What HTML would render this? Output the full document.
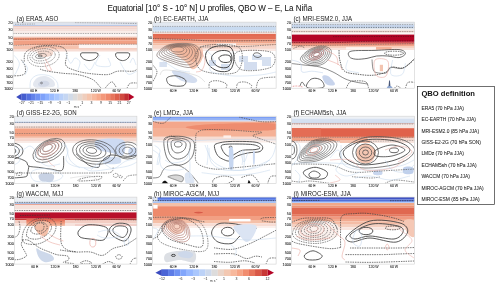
<!DOCTYPE html><html><head><meta charset="utf-8"><style>html,body{margin:0;padding:0;background:#fff;width:500px;height:288px;overflow:hidden}svg{display:block;will-change:transform}</style></head><body>
<svg width="500" height="288" viewBox="0 0 500 288" font-family='"Liberation Sans", sans-serif'>
<rect width="500" height="288" fill="#fff"/>
<text x="107.40" y="10.90" font-size="8.5" text-anchor="start" fill="#111" font-weight="normal" stroke="#111" stroke-width="0.05" textLength="204.8" lengthAdjust="spacingAndGlyphs">Equatorial [10° S - 10° N] U profiles, QBO W – E, La Niña</text>
<clipPath id="cp0"><rect x="13.1" y="22.1" width="124.1" height="66.1"/></clipPath>
<g clip-path="url(#cp0)">
<rect x="13.10" y="22.10" width="124.10" height="2.90" fill="#dfe4ee" fill-opacity="1"/>
<rect x="13.10" y="25.00" width="124.10" height="0.90" fill="#abc2e8" fill-opacity="1"/>
<rect x="13.10" y="25.90" width="124.10" height="1.30" fill="#efcdc3" fill-opacity="1"/>
<rect x="13.10" y="27.20" width="124.10" height="1.40" fill="#f3d8d0" fill-opacity="1"/>
<rect x="13.10" y="28.60" width="124.10" height="0.80" fill="#ebbcb0" fill-opacity="1"/>
<rect x="13.10" y="29.40" width="124.10" height="1.80" fill="#f5e0da" fill-opacity="1"/>
<rect x="13.10" y="31.20" width="124.10" height="1.80" fill="#f8ebe7" fill-opacity="1"/>
<rect x="13.10" y="33.00" width="124.10" height="3.50" fill="#fcf6f4" fill-opacity="1"/>
<rect x="13.10" y="36.50" width="124.10" height="1.10" fill="#f2cdc1" fill-opacity="1"/>
<rect x="13.10" y="37.60" width="124.10" height="2.90" fill="#ee9070" fill-opacity="1"/>
<rect x="13.10" y="40.50" width="124.10" height="4.90" fill="#f1a084" fill-opacity="1"/>
<rect x="13.10" y="45.40" width="124.10" height="4.20" fill="#f5c2ae" fill-opacity="1"/>
<rect x="13.10" y="49.60" width="124.10" height="1.90" fill="#f7ddd5" fill-opacity="1"/>
<rect x="78.80" y="44.30" width="58.40" height="3.90" fill="#fdf6f4" fill-opacity="1"/>
<rect x="78.80" y="48.20" width="58.40" height="1.40" fill="#f3cfc5" fill-opacity="1"/>
<path d="M15.0,24.3 L35.0,24.0" fill="none" stroke="#5c5c5c" stroke-width="0.462" stroke-opacity="1" stroke-dasharray="1.5,0.9"/>
<path d="M75.0,22.6 L110.0,22.9 L137.0,23.6" fill="none" stroke="#5c5c5c" stroke-width="0.462" stroke-opacity="1" stroke-dasharray="1.5,0.9"/>
<path d="M13.1,33.5 L137.0,33.5" fill="none" stroke="#5c5c5c" stroke-width="0.462" stroke-opacity="1" stroke-dasharray="1.5,0.9"/>
<path d="M13.1,39.3 L28.0,39.2 L40.0,38.6 L137.0,38.8" fill="none" stroke="#5c5c5c" stroke-width="0.462" stroke-opacity="1" stroke-dasharray="1.5,0.9"/>
<path d="M13.1,45.5 L20.0,45.2 L35.0,44.3 L137.0,44.2" fill="none" stroke="#5c5c5c" stroke-width="0.462" stroke-opacity="1" stroke-dasharray="1.5,0.9"/>
<path d="M38.0,51.0 C39.7,49.7 47.5,47.5 50.0,48.0 C52.5,48.5 53.5,52.5 53.0,54.0 C52.5,55.5 49.2,56.7 47.0,57.0 C44.8,57.3 41.5,57.0 40.0,56.0 C38.5,55.0 36.3,52.3 38.0,51.0 Z" fill="#f6dcd2" fill-opacity="1"/>
<ellipse cx="40.95" cy="56.00" rx="5.55" ry="2.40" transform="rotate(-8 40.95 56.00)" fill="none" stroke="#444" stroke-width="0.5"/>
<ellipse cx="41.75" cy="56.00" rx="9.55" ry="4.80" transform="rotate(-8 41.75 56.00)" fill="none" stroke="#444" stroke-width="0.5" stroke-dasharray="1.5,0.9"/>
<ellipse cx="42.55" cy="56.00" rx="12.75" ry="7.20" transform="rotate(-8 42.55 56.00)" fill="none" stroke="#444" stroke-width="0.5" stroke-dasharray="1.5,0.9"/>
<ellipse cx="43.35" cy="56.40" rx="15.95" ry="10.00" transform="rotate(-8 43.35 56.40)" fill="none" stroke="#444" stroke-width="0.5" stroke-dasharray="1.5,0.9"/>
<ellipse cx="40.20" cy="56.00" rx="2.20" ry="0.90" fill="none" stroke="#444" stroke-width="0.725" stroke-opacity="1"/>
<path d="M45.0,58.4 C45.8,59.7 48.7,64.4 49.7,66.4 C50.8,68.4 51.7,69.9 51.3,70.4 C50.9,70.9 48.3,70.8 47.3,69.6 C46.2,68.4 45.4,64.1 45.0,63.0" fill="none" stroke="#eaa9a0" stroke-width="0.5850000000000001" stroke-opacity="1"/>
<path d="M24.2,61.6 C24.5,60.0 23.4,54.6 26.0,52.0 C28.6,49.4 34.3,46.9 40.0,46.0 C45.7,45.1 55.5,45.4 60.0,46.5 C64.5,47.6 65.9,49.5 66.8,52.5 C67.7,55.5 64.6,61.8 65.6,64.7 C66.6,67.6 69.3,68.3 73.0,69.7 C76.7,71.1 82.0,72.5 87.7,73.3 C93.4,74.1 102.4,74.9 107.4,74.6 C112.4,74.2 113.4,71.8 117.7,71.2 C122.0,70.6 129.8,71.6 133.0,71.2 C136.2,70.8 136.3,69.3 137.0,68.9" fill="none" stroke="#444" stroke-width="0.725" stroke-opacity="1" stroke-dasharray="1.5,0.9"/>
<path d="M82,52.8 L96,52.8 Q99,53 98,55.5 C96,59.5 92,60.6 89,60.6 C85,60.6 81.5,58 80.6,55.5 Q80,53 82,52.8 Z" fill="none" stroke="#444" stroke-width="0.87" stroke-opacity="1"/>
<path d="M117,52.8 L128,52.8 Q130.5,53 129.6,55.5 C128,59.5 125,60.6 122.5,60.6 C119,60.6 116.3,58 115.6,55.5 Q115,53 117,52.8 Z" fill="none" stroke="#444" stroke-width="0.87" stroke-opacity="1"/>
<path d="M21.4,59.8 C22.0,60.8 24.4,63.8 25.0,66.0 C25.6,68.2 25.8,71.7 25.0,73.3 C24.2,74.9 22.0,75.1 20.0,75.5 C18.0,75.9 14.2,75.8 13.1,75.8" fill="none" stroke="#444" stroke-width="0.725" stroke-opacity="1" stroke-dasharray="1.5,0.9"/>
<path d="M40.0,69.0 C41.0,69.3 42.2,70.2 46.0,70.9 C49.8,71.6 57.7,72.7 63.0,73.3 C68.3,73.9 73.0,73.6 77.9,74.6 C82.8,75.6 88.9,77.5 92.6,79.5 C96.3,81.5 98.6,85.5 100.0,86.9 C101.4,88.4 100.8,88.0 101.0,88.2" fill="none" stroke="#444" stroke-width="0.725" stroke-opacity="1" stroke-dasharray="1.5,0.9"/>
<path d="M105.0,88.2 C106.1,87.2 109.7,82.1 111.6,81.9 C113.5,81.7 115.4,86.3 116.2,87.2" fill="none" stroke="#444" stroke-width="0.725" stroke-opacity="1" stroke-dasharray="1.5,0.9"/>
<path d="M127.0,88.2 C127.5,87.4 128.3,84.3 130.0,83.4 C131.7,82.5 135.8,83.1 137.0,83.0" fill="none" stroke="#444" stroke-width="0.725" stroke-opacity="1" stroke-dasharray="1.5,0.9"/>
<path d="M33.0,84.0 C33.2,82.4 35.0,79.3 37.0,78.0 C39.0,76.7 42.3,75.7 45.0,76.0 C47.7,76.3 51.4,78.3 53.0,80.0 C54.6,81.7 55.7,84.8 54.5,86.0 C53.3,87.2 49.1,87.2 46.0,87.5 C42.9,87.8 38.2,88.1 36.0,87.5 C33.8,86.9 32.8,85.6 33.0,84.0 Z" fill="#e3e7ef" fill-opacity="1"/>
<path d="M38.0,84.0 C38.2,83.1 40.0,81.5 41.5,81.0 C43.0,80.5 45.7,80.5 47.0,81.0 C48.3,81.5 49.7,83.1 49.5,84.0 C49.3,84.9 47.6,86.1 46.0,86.5 C44.4,86.9 41.3,86.9 40.0,86.5 C38.7,86.1 37.8,84.9 38.0,84.0 Z" fill="#d2d8e6" fill-opacity="1"/>
<ellipse cx="41.50" cy="83.00" rx="1.00" ry="0.80" fill="none" stroke="#555" stroke-width="0.58" stroke-opacity="1"/>
<path d="M30.0,88.0 C30.2,86.7 29.7,82.2 31.0,80.0 C32.3,77.8 34.8,75.7 38.0,75.0 C41.2,74.3 46.8,74.8 50.0,76.0 C53.2,77.2 55.7,80.0 57.0,82.0 C58.3,84.0 57.8,87.0 58.0,88.0" fill="none" stroke="#c4d6ec" stroke-width="0.52" stroke-opacity="1"/>
<path d="M14.0,55.2 C14.9,56.5 19.1,60.3 19.4,63.2 C19.7,66.1 16.9,70.8 16.0,72.8 C15.1,74.8 14.3,74.6 14.0,75.0" fill="none" stroke="#c4d6ec" stroke-width="0.52" stroke-opacity="1"/>
<path d="M22.0,61.0 C22.9,62.2 26.9,65.7 27.4,68.0 C27.9,70.3 25.4,73.8 25.0,75.0" fill="none" stroke="#c4d6ec" stroke-width="0.52" stroke-opacity="1"/>
<path d="M65.7,53.6 C66.5,55.2 69.0,62.5 70.5,63.2 C72.0,63.9 73.4,58.2 75.0,58.0 C76.6,57.8 79.5,60.0 80.0,62.0 C80.5,64.0 78.3,68.7 78.0,70.0" fill="none" stroke="#c4d6ec" stroke-width="0.52" stroke-opacity="1"/>
<path d="M100.0,55.0 C99.3,56.7 94.3,63.2 96.0,65.0 C97.7,66.8 108.0,67.2 110.0,66.0 C112.0,64.8 108.3,59.3 108.0,58.0" fill="none" stroke="#c4d6ec" stroke-width="0.52" stroke-opacity="1"/>
<path d="M84.0,64.0 C85.0,65.0 88.2,70.3 90.0,70.0 C91.8,69.7 94.2,63.3 95.0,62.0" fill="none" stroke="#c4d6ec" stroke-width="0.52" stroke-opacity="1"/>
<path d="M120.0,62.0 C121.3,64.0 125.2,72.5 128.0,74.0 C130.8,75.5 135.5,71.5 137.0,71.0" fill="none" stroke="#c4d6ec" stroke-width="0.52" stroke-opacity="1"/>
<path d="M130.0,63.0 C130.5,62.2 132.0,57.7 133.0,58.0 C134.0,58.3 135.5,63.8 136.0,65.0" fill="none" stroke="#c4d6ec" stroke-width="0.52" stroke-opacity="1"/>
</g>
<rect x="13.1" y="22.1" width="124.1" height="66.1" fill="none" stroke="#d0d0d0" stroke-width="0.6"/>
<text x="16.60" y="20.90" font-size="6.3" text-anchor="start" fill="#1a1a1a" font-weight="normal" textLength="41.7" lengthAdjust="spacingAndGlyphs">(a) ERA5, ASO</text>
<text x="12.60" y="23.85" font-size="3.8" text-anchor="end" fill="#1a1a1a" font-weight="normal" stroke="#1a1a1a" stroke-width="0.06">20</text>
<text x="12.60" y="30.70" font-size="3.8" text-anchor="end" fill="#1a1a1a" font-weight="normal" stroke="#1a1a1a" stroke-width="0.06">30</text>
<text x="12.60" y="39.33" font-size="3.8" text-anchor="end" fill="#1a1a1a" font-weight="normal" stroke="#1a1a1a" stroke-width="0.06">50</text>
<text x="12.60" y="45.02" font-size="3.8" text-anchor="end" fill="#1a1a1a" font-weight="normal" stroke="#1a1a1a" stroke-width="0.06">70</text>
<text x="12.60" y="51.04" font-size="3.8" text-anchor="end" fill="#1a1a1a" font-weight="normal" stroke="#1a1a1a" stroke-width="0.06">100</text>
<text x="12.60" y="62.76" font-size="3.8" text-anchor="end" fill="#1a1a1a" font-weight="normal" stroke="#1a1a1a" stroke-width="0.06">200</text>
<text x="12.60" y="69.61" font-size="3.8" text-anchor="end" fill="#1a1a1a" font-weight="normal" stroke="#1a1a1a" stroke-width="0.06">300</text>
<text x="12.60" y="78.24" font-size="3.8" text-anchor="end" fill="#1a1a1a" font-weight="normal" stroke="#1a1a1a" stroke-width="0.06">500</text>
<text x="12.60" y="83.92" font-size="3.8" text-anchor="end" fill="#1a1a1a" font-weight="normal" stroke="#1a1a1a" stroke-width="0.06">700</text>
<text x="12.60" y="89.95" font-size="3.8" text-anchor="end" fill="#1a1a1a" font-weight="normal" stroke="#1a1a1a" stroke-width="0.06">1000</text>
<text x="33.78" y="91.90" font-size="3.5" text-anchor="middle" fill="#1a1a1a" font-weight="normal" stroke="#1a1a1a" stroke-width="0.05">60 E</text>
<text x="54.47" y="91.90" font-size="3.5" text-anchor="middle" fill="#1a1a1a" font-weight="normal" stroke="#1a1a1a" stroke-width="0.05">120 E</text>
<text x="75.15" y="91.90" font-size="3.5" text-anchor="middle" fill="#1a1a1a" font-weight="normal" stroke="#1a1a1a" stroke-width="0.05">180</text>
<text x="95.83" y="91.90" font-size="3.5" text-anchor="middle" fill="#1a1a1a" font-weight="normal" stroke="#1a1a1a" stroke-width="0.05">120 W</text>
<text x="116.52" y="91.90" font-size="3.5" text-anchor="middle" fill="#1a1a1a" font-weight="normal" stroke="#1a1a1a" stroke-width="0.05">60 W</text>
<clipPath id="cp1"><rect x="152.7" y="22.1" width="123.40000000000003" height="66.1"/></clipPath>
<g clip-path="url(#cp1)">
<rect x="152.70" y="22.10" width="123.40" height="3.70" fill="#e2e8f0" fill-opacity="1"/>
<rect x="152.70" y="25.80" width="123.40" height="0.90" fill="#d8e2f0" fill-opacity="1"/>
<rect x="152.70" y="26.70" width="123.40" height="4.10" fill="#c8daf0" fill-opacity="1"/>
<rect x="152.70" y="30.80" width="123.40" height="1.40" fill="#e8eef5" fill-opacity="1"/>
<rect x="152.70" y="32.20" width="123.40" height="0.60" fill="#eec0b4" fill-opacity="1"/>
<rect x="152.70" y="32.80" width="123.40" height="1.10" fill="#f8e8e3" fill-opacity="1"/>
<rect x="152.70" y="33.90" width="123.40" height="2.10" fill="#e26a52" fill-opacity="1"/>
<rect x="152.70" y="36.00" width="123.40" height="3.40" fill="#e46f56" fill-opacity="1"/>
<rect x="152.70" y="39.40" width="123.40" height="2.30" fill="#ec8a6e" fill-opacity="1"/>
<rect x="152.70" y="41.70" width="123.40" height="1.80" fill="#f2a88c" fill-opacity="1"/>
<rect x="152.70" y="43.50" width="123.40" height="2.10" fill="#f5bea6" fill-opacity="1"/>
<rect x="152.70" y="45.60" width="123.40" height="3.30" fill="#f7d6ca" fill-opacity="1"/>
<rect x="152.70" y="48.90" width="123.40" height="2.10" fill="#faeae5" fill-opacity="1"/>
<rect x="216.50" y="43.30" width="19.50" height="2.30" fill="#fdf4f1" fill-opacity="1"/>
<path d="M166.0,46.0 C167.0,44.3 176.3,45.0 182.0,45.0 C187.7,45.0 196.5,44.2 200.0,46.0 C203.5,47.8 203.3,52.7 203.0,56.0 C202.7,59.3 199.8,63.8 198.0,66.0 C196.2,68.2 194.0,69.7 192.0,69.0 C190.0,68.3 188.7,64.3 186.0,62.0 C183.3,59.7 179.3,57.7 176.0,55.0 C172.7,52.3 165.0,47.7 166.0,46.0 Z" fill="#f6c8b3" fill-opacity="1"/>
<path d="M170.0,46.0 C171.7,44.2 190.2,44.5 195.0,46.0 C199.8,47.5 199.2,52.3 199.0,55.0 C198.8,57.7 196.3,61.7 194.0,62.0 C191.7,62.3 189.0,59.7 185.0,57.0 C181.0,54.3 168.3,47.8 170.0,46.0 Z" fill="#f2b79d" fill-opacity="1"/>
<path d="M152.7,26.4 L276.0,26.4" fill="none" stroke="#5c5c5c" stroke-width="0.462" stroke-opacity="1" stroke-dasharray="1.5,0.9"/>
<path d="M152.7,32.0 L276.0,32.0" fill="none" stroke="#5c5c5c" stroke-width="0.462" stroke-opacity="1" stroke-dasharray="1.5,0.9"/>
<path d="M152.7,38.6 C158.1,38.8 174.6,39.1 185.0,39.5 C195.4,39.9 199.8,40.7 215.0,40.9 C230.2,41.1 265.8,40.6 276.0,40.6" fill="none" stroke="#505050" stroke-width="0.6525" stroke-opacity="1" stroke-dasharray="1.5,0.9"/>
<path d="M200.0,47.0 C205.0,47.0 221.7,46.8 230.0,46.7 C238.3,46.6 245.0,46.5 250.0,46.3 C255.0,46.1 255.7,45.8 260.0,45.5 C264.3,45.2 273.3,44.7 276.0,44.5" fill="none" stroke="#505050" stroke-width="0.58" stroke-opacity="1" stroke-dasharray="1.5,0.9"/>
<rect x="159.40" y="62.00" width="7.50" height="5.00" fill="#d8e1f0" fill-opacity="1"/>
<path d="M172.0,71.0 C173.0,69.8 181.9,71.7 186.0,73.0 C190.1,74.3 195.4,77.3 196.7,79.0 C198.0,80.7 196.8,82.8 194.0,83.0 C191.2,83.2 183.7,82.0 180.0,80.0 C176.3,78.0 171.0,72.2 172.0,71.0 Z" fill="#d3ddef" fill-opacity="1"/>
<rect x="209.00" y="60.00" width="7.00" height="6.00" fill="#d6e0f0" fill-opacity="1"/>
<rect x="221.00" y="64.00" width="9.00" height="6.00" fill="#d6e0f0" fill-opacity="1"/>
<rect x="239.00" y="56.00" width="9.00" height="6.00" fill="#d6e0f0" fill-opacity="1"/>
<rect x="252.00" y="54.70" width="10.00" height="5.30" fill="#d6e0f0" fill-opacity="1"/>
<rect x="244.00" y="62.00" width="13.00" height="8.00" fill="#d3ddef" fill-opacity="1"/>
<rect x="262.00" y="57.00" width="9.00" height="9.00" fill="#d6e0f0" fill-opacity="1"/>
<path d="M157.0,56.0 C155.8,53.2 161.5,48.6 165.0,46.5 C168.5,44.4 173.0,43.8 178.0,43.5 C183.0,43.2 191.2,43.2 195.0,45.0 C198.8,46.8 200.7,50.8 201.0,54.0 C201.3,57.2 199.2,61.8 197.0,64.0 C194.8,66.2 192.2,67.7 188.0,67.5 C183.8,67.3 177.2,64.9 172.0,63.0 C166.8,61.1 158.2,58.8 157.0,56.0 Z" fill="none" stroke="#6a5a56" stroke-width="0.58"/>
<path d="M159.3,54.9 C158.4,52.5 163.4,48.5 166.5,46.7 C169.6,44.9 173.6,44.3 178.0,44.1 C182.4,43.9 189.5,43.9 192.8,45.4 C196.2,46.9 197.9,50.5 198.2,53.2 C198.4,56.0 196.5,60.0 194.5,61.9 C192.5,63.9 190.1,65.1 186.3,64.9 C182.6,64.8 176.7,62.7 172.2,61.1 C167.7,59.4 160.3,57.3 159.3,54.9 Z" fill="none" stroke="#6a5a56" stroke-width="0.58"/>
<path d="M161.7,53.8 C160.9,51.8 165.3,48.4 168.0,46.8 C170.7,45.3 174.2,44.8 178.0,44.7 C181.8,44.5 187.8,44.5 190.7,45.8 C193.6,47.1 195.1,50.2 195.3,52.5 C195.6,54.8 193.8,58.2 192.0,59.8 C190.2,61.5 187.9,62.4 184.7,62.3 C181.4,62.2 176.2,60.6 172.3,59.2 C168.5,57.8 162.4,55.9 161.7,53.8 Z" fill="none" stroke="#6a5a56" stroke-width="0.58"/>
<path d="M164.0,52.8 C163.5,51.0 167.2,48.2 169.5,47.0 C171.8,45.8 174.8,45.4 178.0,45.2 C181.2,45.1 186.1,45.2 188.5,46.2 C190.9,47.3 192.3,49.8 192.5,51.8 C192.7,53.7 191.1,56.4 189.5,57.8 C187.9,59.1 185.8,59.8 183.0,59.8 C180.2,59.7 175.7,58.4 172.5,57.2 C169.3,56.1 164.5,54.5 164.0,52.8 Z" fill="none" stroke="#6a5a56" stroke-width="0.58"/>
<path d="M166.3,51.7 C166.1,50.3 169.1,48.1 171.0,47.2 C172.9,46.2 175.4,45.9 178.0,45.8 C180.6,45.8 184.4,45.8 186.3,46.7 C188.3,47.5 189.6,49.5 189.7,51.0 C189.8,52.5 188.4,54.6 187.0,55.7 C185.6,56.7 183.7,57.2 181.3,57.2 C178.9,57.1 175.2,56.2 172.7,55.3 C170.2,54.4 166.6,53.0 166.3,51.7 Z" fill="none" stroke="#6a5a56" stroke-width="0.58"/>
<path d="M168.7,50.6 C168.6,49.6 170.9,48.0 172.5,47.3 C174.1,46.6 176.1,46.5 178.0,46.4 C179.9,46.4 182.7,46.4 184.2,47.1 C185.6,47.7 186.8,49.2 186.8,50.2 C186.9,51.3 185.7,52.9 184.5,53.6 C183.3,54.3 181.6,54.6 179.7,54.6 C177.7,54.6 174.7,54.1 172.8,53.4 C171.0,52.8 168.7,51.6 168.7,50.6 Z" fill="none" stroke="#6a5a56" stroke-width="0.58"/>
<path d="M171.0,49.5 C171.2,48.8 172.8,47.9 174.0,47.5 C175.2,47.1 176.7,47.0 178.0,47.0 C179.3,47.0 181.0,47.1 182.0,47.5 C183.0,47.9 184.0,48.8 184.0,49.5 C184.0,50.2 183.0,51.1 182.0,51.5 C181.0,51.9 179.5,52.0 178.0,52.0 C176.5,52.0 174.2,51.9 173.0,51.5 C171.8,51.1 170.8,50.2 171.0,49.5 Z" fill="none" stroke="#6a5a56" stroke-width="0.58"/>
<path d="M206.0,53.0 C207.2,50.1 211.0,47.5 215.0,46.5 C219.0,45.5 226.8,45.1 230.0,47.0 C233.2,48.9 234.0,54.2 234.0,58.0 C234.0,61.8 232.7,67.8 230.0,70.0 C227.3,72.2 221.7,72.0 218.0,71.0 C214.3,70.0 210.0,67.0 208.0,64.0 C206.0,61.0 204.8,55.9 206.0,53.0 Z" fill="none" stroke="#404040" stroke-width="0.9425" stroke-opacity="1"/>
<path d="M212.0,56.0 C213.0,54.2 216.2,51.8 219.0,51.0 C221.8,50.2 226.8,50.2 229.0,51.5 C231.2,52.8 232.2,56.4 232.0,59.0 C231.8,61.6 230.2,65.7 228.0,67.0 C225.8,68.3 221.5,67.8 219.0,67.0 C216.5,66.2 214.2,63.8 213.0,62.0 C211.8,60.2 211.0,57.8 212.0,56.0 Z" fill="none" stroke="#404040" stroke-width="0.9425" stroke-opacity="1"/>
<path d="M219.0,57.5 C219.5,56.4 222.2,55.2 224.0,55.0 C225.8,54.8 228.9,55.0 230.0,56.0 C231.1,57.0 231.2,59.9 230.5,61.0 C229.8,62.1 227.6,62.4 226.0,62.5 C224.4,62.6 222.2,62.3 221.0,61.5 C219.8,60.7 218.5,58.6 219.0,57.5 Z" fill="none" stroke="#404040" stroke-width="0.9425" stroke-opacity="1"/>
<path d="M200.4,47.3 C206.8,43.6 232.8,43.2 238.8,47.3 C244.8,51.4 242.8,68.4 236.4,72.1 C230.0,75.8 206.4,73.7 200.4,69.6 C194.4,65.5 194.0,51.0 200.4,47.3 Z" fill="none" stroke="#555" stroke-width="0.725" stroke-opacity="1" stroke-dasharray="1.5,0.9"/>
<path d="M236.4,52.3 C241.4,49.4 265.3,49.8 271.1,52.3 C276.9,54.8 276.1,64.2 271.1,67.1 C266.1,70.0 247.1,72.1 241.3,69.6 C235.5,67.1 231.4,55.2 236.4,52.3 Z" fill="none" stroke="#555" stroke-width="0.725" stroke-opacity="1" stroke-dasharray="1.5,0.9"/>
<path d="M166.9,78.0 C167.9,76.5 172.9,75.5 176.0,75.8 C179.1,76.1 184.3,78.3 185.5,80.0 C186.7,81.7 185.6,85.0 183.0,85.8 C180.4,86.6 172.7,86.3 170.0,85.0 C167.3,83.7 165.9,79.5 166.9,78.0 Z" fill="none" stroke="#444444" stroke-width="0.87" stroke-opacity="1"/>
<path d="M254.0,53.5 C254.7,53.0 256.8,52.6 258.0,52.9 C259.2,53.2 261.4,54.7 261.4,55.5 C261.4,56.3 259.2,57.4 258.0,57.5 C256.8,57.6 254.7,56.7 254.0,56.0 C253.3,55.3 253.3,54.0 254.0,53.5 Z" fill="none" stroke="#444444" stroke-width="0.725" stroke-opacity="1"/>
<path d="M152.7,64.7 C153.4,65.9 157.0,69.2 157.0,72.1 C157.0,75.0 153.4,80.3 152.7,82.0" fill="none" stroke="#555" stroke-width="0.725" stroke-opacity="1" stroke-dasharray="1.5,0.9"/>
<path d="M209.0,88.2 C209.2,87.2 208.5,83.2 210.0,82.0 C211.5,80.8 215.3,80.5 218.0,80.8 C220.7,81.1 225.1,82.8 226.4,84.0 C227.7,85.2 226.1,87.5 226.0,88.2" fill="none" stroke="#555" stroke-width="0.725" stroke-opacity="1" stroke-dasharray="1.5,0.9"/>
<path d="M236.4,88.2 C236.7,87.3 236.6,84.0 238.0,83.0 C239.4,82.0 242.8,81.7 245.0,82.0 C247.2,82.3 250.3,84.0 251.3,85.0 C252.3,86.0 251.1,87.7 251.0,88.2" fill="none" stroke="#555" stroke-width="0.725" stroke-opacity="1" stroke-dasharray="1.5,0.9"/>
<path d="M256.2,88.2 C256.8,86.7 256.7,80.9 260.0,79.0 C263.3,77.1 273.3,77.3 276.0,77.0" fill="none" stroke="#555" stroke-width="0.725" stroke-opacity="1" stroke-dasharray="1.5,0.9"/>
<path d="M206.0,50.0 C207.2,51.3 212.3,54.7 213.0,58.0 C213.7,61.3 208.8,67.3 210.0,70.0 C211.2,72.7 215.8,73.0 220.0,74.0 C224.2,75.0 228.3,75.8 235.0,76.0 C241.7,76.2 253.2,75.7 260.0,75.0 C266.8,74.3 273.3,72.5 276.0,72.0" fill="none" stroke="#c4d6ec" stroke-width="0.52" stroke-opacity="1"/>
<path d="M158.0,58.0 C159.7,59.0 164.7,62.0 168.0,64.0 C171.3,66.0 174.3,68.7 178.0,70.0 C181.7,71.3 188.0,71.7 190.0,72.0" fill="none" stroke="#c4d6ec" stroke-width="0.52" stroke-opacity="1"/>
<path d="M200.0,50.0 C200.8,51.7 204.7,56.7 205.0,60.0 C205.3,63.3 203.5,68.0 202.0,70.0 C200.5,72.0 197.0,71.7 196.0,72.0" fill="none" stroke="#eaa9a0" stroke-width="0.5850000000000001" stroke-opacity="1"/>
<path d="M160.0,75.0 C161.0,74.2 160.2,70.0 166.0,70.0 C171.8,70.0 188.5,73.0 195.0,75.0 C201.5,77.0 203.3,80.8 205.0,82.0" fill="none" stroke="#c8c8c8" stroke-width="0.52" stroke-opacity="1"/>
</g>
<rect x="152.7" y="22.1" width="123.40000000000003" height="66.1" fill="none" stroke="#d0d0d0" stroke-width="0.6"/>
<text x="153.90" y="20.90" font-size="6.3" text-anchor="start" fill="#1a1a1a" font-weight="normal" textLength="54.6" lengthAdjust="spacingAndGlyphs">(b) EC-EARTH, JJA</text>
<text x="152.20" y="23.85" font-size="3.8" text-anchor="end" fill="#1a1a1a" font-weight="normal" stroke="#1a1a1a" stroke-width="0.06">20</text>
<text x="152.20" y="30.70" font-size="3.8" text-anchor="end" fill="#1a1a1a" font-weight="normal" stroke="#1a1a1a" stroke-width="0.06">30</text>
<text x="152.20" y="39.33" font-size="3.8" text-anchor="end" fill="#1a1a1a" font-weight="normal" stroke="#1a1a1a" stroke-width="0.06">50</text>
<text x="152.20" y="45.02" font-size="3.8" text-anchor="end" fill="#1a1a1a" font-weight="normal" stroke="#1a1a1a" stroke-width="0.06">70</text>
<text x="152.20" y="51.04" font-size="3.8" text-anchor="end" fill="#1a1a1a" font-weight="normal" stroke="#1a1a1a" stroke-width="0.06">100</text>
<text x="152.20" y="62.76" font-size="3.8" text-anchor="end" fill="#1a1a1a" font-weight="normal" stroke="#1a1a1a" stroke-width="0.06">200</text>
<text x="152.20" y="69.61" font-size="3.8" text-anchor="end" fill="#1a1a1a" font-weight="normal" stroke="#1a1a1a" stroke-width="0.06">300</text>
<text x="152.20" y="78.24" font-size="3.8" text-anchor="end" fill="#1a1a1a" font-weight="normal" stroke="#1a1a1a" stroke-width="0.06">500</text>
<text x="152.20" y="83.92" font-size="3.8" text-anchor="end" fill="#1a1a1a" font-weight="normal" stroke="#1a1a1a" stroke-width="0.06">700</text>
<text x="152.20" y="89.95" font-size="3.8" text-anchor="end" fill="#1a1a1a" font-weight="normal" stroke="#1a1a1a" stroke-width="0.06">1000</text>
<text x="173.27" y="91.90" font-size="3.5" text-anchor="middle" fill="#1a1a1a" font-weight="normal" stroke="#1a1a1a" stroke-width="0.05">60 E</text>
<text x="193.83" y="91.90" font-size="3.5" text-anchor="middle" fill="#1a1a1a" font-weight="normal" stroke="#1a1a1a" stroke-width="0.05">120 E</text>
<text x="214.40" y="91.90" font-size="3.5" text-anchor="middle" fill="#1a1a1a" font-weight="normal" stroke="#1a1a1a" stroke-width="0.05">180</text>
<text x="234.97" y="91.90" font-size="3.5" text-anchor="middle" fill="#1a1a1a" font-weight="normal" stroke="#1a1a1a" stroke-width="0.05">120 W</text>
<text x="255.53" y="91.90" font-size="3.5" text-anchor="middle" fill="#1a1a1a" font-weight="normal" stroke="#1a1a1a" stroke-width="0.05">60 W</text>
<clipPath id="cp2"><rect x="291.5" y="22.1" width="123.10000000000002" height="66.1"/></clipPath>
<g clip-path="url(#cp2)">
<rect x="291.50" y="22.10" width="123.10" height="2.50" fill="#e0e6ee" fill-opacity="1"/>
<rect x="291.50" y="24.60" width="123.10" height="2.90" fill="#c9d8ee" fill-opacity="1"/>
<rect x="291.50" y="27.50" width="123.10" height="1.50" fill="#dce4ee" fill-opacity="1"/>
<rect x="291.50" y="29.00" width="123.10" height="1.80" fill="#f1ece9" fill-opacity="1"/>
<rect x="291.50" y="30.80" width="123.10" height="1.00" fill="#eec2b6" fill-opacity="1"/>
<rect x="291.50" y="31.80" width="123.10" height="1.00" fill="#f6e6e1" fill-opacity="1"/>
<rect x="291.50" y="32.80" width="123.10" height="1.80" fill="#fdf8f6" fill-opacity="1"/>
<rect x="291.50" y="34.60" width="123.10" height="7.20" fill="#b40426" fill-opacity="1"/>
<rect x="291.50" y="41.80" width="123.10" height="1.00" fill="#c52f32" fill-opacity="1"/>
<rect x="291.50" y="42.80" width="123.10" height="1.00" fill="#d9584a" fill-opacity="1"/>
<rect x="291.50" y="43.80" width="123.10" height="1.00" fill="#e8785f" fill-opacity="1"/>
<rect x="291.50" y="44.80" width="123.10" height="1.50" fill="#f2a68b" fill-opacity="1"/>
<rect x="291.50" y="46.30" width="123.10" height="1.50" fill="#f5c0a8" fill-opacity="1"/>
<rect x="291.50" y="47.80" width="123.10" height="2.20" fill="#f8e2da" fill-opacity="1"/>
<rect x="346.00" y="47.20" width="30.00" height="2.40" fill="#fdf5f2" fill-opacity="1"/>
<rect x="376.00" y="47.00" width="15.60" height="2.60" fill="#f4b49a" fill-opacity="1"/>
<path d="M291.5,24.6 L414.6,24.6" fill="none" stroke="#5c5c5c" stroke-width="0.462" stroke-opacity="1" stroke-dasharray="1.5,0.9"/>
<path d="M291.5,27.4 L414.6,27.4" fill="none" stroke="#456" stroke-width="0.725" stroke-opacity="1" stroke-dasharray="1.5,0.9"/>
<path d="M291.5,31.6 L414.6,31.6" fill="none" stroke="#5c5c5c" stroke-width="0.462" stroke-opacity="1" stroke-dasharray="1.5,0.9"/>
<path d="M333.0,36.6 C346.6,36.6 401.0,36.4 414.6,36.4" fill="none" stroke="#5a0a14" stroke-width="0.58" stroke-opacity="1" stroke-dasharray="1.5,0.9"/>
<path d="M291.5,42.5 C299.6,42.5 328.6,42.7 340.0,42.5 C351.4,42.3 347.6,41.8 360.0,41.5 C372.4,41.2 405.5,40.9 414.6,40.8" fill="none" stroke="#5a0a14" stroke-width="0.58" stroke-opacity="1" stroke-dasharray="1.5,0.9"/>
<path d="M291.5,45.5 C296.2,45.5 310.2,45.6 320.0,45.5 C329.8,45.4 334.2,45.1 350.0,44.8 C365.8,44.5 403.8,43.8 414.6,43.6" fill="none" stroke="#5c5c5c" stroke-width="0.462" stroke-opacity="1" stroke-dasharray="1.5,0.9"/>
<path d="M300.5,60.0 C299.5,57.8 303.4,54.2 306.0,52.0 C308.6,49.8 312.8,47.9 316.0,47.0 C319.2,46.1 322.5,46.0 325.0,46.5 C327.5,47.0 330.2,48.2 331.0,50.0 C331.8,51.8 331.3,54.7 330.0,57.0 C328.7,59.3 326.0,62.6 323.0,64.0 C320.0,65.4 315.8,66.2 312.0,65.5 C308.2,64.8 301.5,62.2 300.5,60.0 Z" fill="none" stroke="#505050" stroke-width="0.58"/>
<path d="M302.6,59.1 C301.8,57.1 305.2,54.0 307.5,52.2 C309.8,50.3 313.6,48.7 316.3,47.9 C319.1,47.2 322.0,47.1 324.2,47.6 C326.3,48.1 328.5,49.2 329.2,50.8 C329.8,52.3 329.2,54.8 328.0,56.8 C326.8,58.8 324.3,61.6 321.7,62.8 C319.0,63.9 315.3,64.5 312.2,63.9 C309.0,63.3 303.4,61.0 302.6,59.1 Z" fill="none" stroke="#505050" stroke-width="0.58"/>
<path d="M304.7,58.2 C304.1,56.5 307.0,53.9 309.0,52.3 C311.0,50.8 314.3,49.4 316.7,48.8 C319.1,48.2 321.6,48.2 323.3,48.7 C325.1,49.1 326.9,50.2 327.3,51.5 C327.8,52.8 327.2,55.0 326.0,56.7 C324.8,58.3 322.6,60.6 320.3,61.5 C318.1,62.4 314.9,62.9 312.3,62.3 C309.7,61.8 305.2,59.8 304.7,58.2 Z" fill="none" stroke="#505050" stroke-width="0.58"/>
<path d="M306.8,57.2 C306.4,55.9 308.8,53.8 310.5,52.5 C312.2,51.2 315.0,50.2 317.0,49.8 C319.0,49.3 321.1,49.3 322.5,49.8 C323.9,50.2 325.2,51.1 325.5,52.2 C325.8,53.4 325.1,55.2 324.0,56.5 C322.9,57.8 320.9,59.5 319.0,60.2 C317.1,61.0 314.5,61.2 312.5,60.8 C310.5,60.2 307.1,58.6 306.8,57.2 Z" fill="none" stroke="#505050" stroke-width="0.58"/>
<path d="M308.8,56.3 C308.7,55.2 310.6,53.6 312.0,52.7 C313.4,51.7 315.7,51.0 317.3,50.7 C318.9,50.4 320.6,50.4 321.7,50.8 C322.7,51.2 323.6,52.1 323.7,53.0 C323.7,53.9 323.0,55.3 322.0,56.3 C321.0,57.3 319.2,58.5 317.7,59.0 C316.1,59.5 314.1,59.6 312.7,59.2 C311.2,58.7 308.9,57.4 308.8,56.3 Z" fill="none" stroke="#505050" stroke-width="0.58"/>
<path d="M310.9,55.4 C311.0,54.6 312.4,53.5 313.5,52.8 C314.6,52.2 316.4,51.7 317.7,51.6 C318.9,51.4 320.1,51.6 320.8,51.9 C321.5,52.3 322.0,53.0 321.8,53.8 C321.7,54.5 320.9,55.5 320.0,56.2 C319.1,56.8 317.5,57.5 316.3,57.8 C315.1,58.0 313.7,58.0 312.8,57.6 C311.9,57.2 310.8,56.2 310.9,55.4 Z" fill="none" stroke="#505050" stroke-width="0.58"/>
<path d="M313.0,54.5 C313.3,54.0 314.2,53.3 315.0,53.0 C315.8,52.7 317.2,52.5 318.0,52.5 C318.8,52.5 319.7,52.7 320.0,53.0 C320.3,53.3 320.3,54.0 320.0,54.5 C319.7,55.0 318.8,55.7 318.0,56.0 C317.2,56.3 315.8,56.5 315.0,56.5 C314.2,56.5 313.3,56.3 313.0,56.0 C312.7,55.7 312.7,55.0 313.0,54.5 Z" fill="none" stroke="#505050" stroke-width="0.58"/>
<ellipse cx="316.50" cy="54.50" rx="8.00" ry="4.50" transform="rotate(-30 316.50 54.50)" fill="none" stroke="#c07070" stroke-width="0.5075" stroke-opacity="1"/>
<ellipse cx="316.50" cy="54.50" rx="5.60" ry="3.15" transform="rotate(-30 316.50 54.50)" fill="none" stroke="#c07070" stroke-width="0.5075" stroke-opacity="1"/>
<ellipse cx="316.50" cy="54.50" rx="3.20" ry="1.80" transform="rotate(-30 316.50 54.50)" fill="none" stroke="#c07070" stroke-width="0.5075" stroke-opacity="1"/>
<path d="M327.7,60.0 C329.6,60.8 336.6,63.1 339.0,64.8 C341.4,66.5 341.5,69.1 342.0,70.0" fill="none" stroke="#eaa9a0" stroke-width="0.5850000000000001" stroke-opacity="1"/>
<path d="M325.0,50.0 C326.8,51.0 333.8,53.5 336.0,56.0 C338.2,58.5 337.7,63.5 338.0,65.0" fill="none" stroke="#eaa9a0" stroke-width="0.5850000000000001" stroke-opacity="1"/>
<path d="M291.5,63.5 C293.6,63.8 299.2,64.4 304.0,65.0 C308.8,65.6 315.2,65.8 320.0,67.0 C324.8,68.2 328.8,70.0 333.0,72.0 C337.2,74.0 341.2,77.1 345.0,78.8 C348.8,80.5 351.7,81.1 355.5,82.0 C359.3,82.9 365.9,83.7 368.0,84.0" fill="none" stroke="#505050" stroke-width="0.6525" stroke-opacity="1"/>
<path d="M293.5,48.5 C294.6,48.1 298.1,46.1 300.0,46.0 C301.9,45.9 304.2,47.7 305.0,48.0" fill="none" stroke="#555" stroke-width="0.6525" stroke-opacity="1" stroke-dasharray="1.5,0.9"/>
<path d="M351.0,51.2 C355.3,50.1 367.0,50.7 375.0,50.4 C383.0,50.1 393.9,49.1 399.0,49.6 C404.1,50.1 405.4,52.3 405.4,53.6 C405.4,54.9 401.9,57.2 399.0,57.6 C396.1,58.0 391.5,56.3 387.8,56.0 C384.1,55.7 380.1,55.6 376.6,56.0 C373.1,56.4 370.5,57.9 367.0,58.4 C363.5,58.9 358.7,59.5 355.8,59.2 C352.9,58.9 350.2,58.1 349.4,56.8 C348.6,55.5 346.7,52.3 351.0,51.2 Z" fill="none" stroke="#484848" stroke-width="0.7975" stroke-opacity="1"/>
<ellipse cx="394.00" cy="53.20" rx="9.50" ry="2.00" fill="none" stroke="#333" stroke-width="0.725" stroke-opacity="1" stroke-dasharray="1.5,0.9"/>
<path d="M339.0,50.0 C339.1,51.7 338.9,56.5 339.8,60.0 C340.7,63.5 341.4,68.8 344.6,71.2 C347.8,73.6 354.2,73.7 359.0,74.4 C363.8,75.1 368.9,75.6 373.4,75.2 C377.9,74.8 383.3,73.4 386.2,72.0 C389.1,70.6 388.3,67.7 391.0,67.0 C393.7,66.3 399.0,68.6 402.2,68.0 C405.4,67.4 408.1,64.8 410.2,63.2 C412.3,61.6 413.9,59.2 414.6,58.4" fill="none" stroke="#3c3c3c" stroke-width="0.7975" stroke-opacity="1" stroke-dasharray="1.5,0.9"/>
<path d="M372.0,59.5 C372.2,61.1 372.3,66.8 373.0,69.0 C373.7,71.2 373.8,71.8 376.0,72.5 C378.2,73.2 383.5,73.8 386.0,73.0 C388.5,72.2 388.3,68.2 391.0,67.5 C393.7,66.8 398.8,69.2 402.0,68.5 C405.2,67.8 407.9,64.7 410.0,63.0 C412.1,61.3 413.8,59.2 414.6,58.5" fill="none" stroke="#505050" stroke-width="0.6525" stroke-opacity="1"/>
<path d="M375.0,60.0 C377.0,57.7 386.0,58.3 387.8,61.0 C389.6,63.7 388.0,73.7 386.0,76.0 C384.0,78.3 377.8,77.7 376.0,75.0 C374.2,72.3 373.0,62.3 375.0,60.0 Z" fill="none" stroke="#eaa9a0" stroke-width="0.5850000000000001" stroke-opacity="1"/>
<rect x="379.80" y="64.80" width="3.20" height="6.40" fill="#f3c4b0" fill-opacity="1"/>
<path d="M392.6,60.0 C392.3,62.4 389.4,72.0 391.0,74.4 C392.6,76.8 399.8,76.3 402.2,74.4 C404.6,72.5 404.9,65.1 405.4,63.2" fill="none" stroke="#c4d6ec" stroke-width="0.52" stroke-opacity="1"/>
<path d="M347.8,60.0 C347.6,61.6 344.6,67.5 346.5,69.6 C348.4,71.7 356.9,72.3 359.0,72.8" fill="none" stroke="#c4d6ec" stroke-width="0.52" stroke-opacity="1"/>
<path d="M291.5,60.0 C293.0,60.5 298.9,61.2 300.6,63.2 C302.4,65.2 300.1,70.7 302.0,72.0 C303.9,73.3 308.3,71.1 311.8,71.2 C315.3,71.3 321.1,72.5 323.0,72.8" fill="none" stroke="#c4d6ec" stroke-width="0.5850000000000001" stroke-opacity="1"/>
<path d="M322.3,76.5 C322.6,75.2 325.9,74.9 328.0,76.0 C330.1,77.1 333.9,81.4 334.7,83.0 C335.5,84.6 334.4,85.2 333.0,85.4 C331.6,85.6 327.8,85.5 326.0,84.0 C324.2,82.5 322.0,77.8 322.3,76.5 Z" fill="#c8d4ec" fill-opacity="1"/>
<path d="M307.0,87.5 C304.8,86.2 308.5,81.5 310.0,80.0 C311.5,78.5 314.0,78.1 316.0,78.3 C318.0,78.5 320.8,79.5 322.0,81.0 C323.2,82.5 325.5,86.4 323.0,87.5 C320.5,88.6 309.2,88.8 307.0,87.5 Z" fill="none" stroke="#3c3c3c" stroke-width="0.7975" stroke-opacity="1"/>
<path d="M346.2,88.2 C346.8,87.2 348.2,83.2 350.0,82.0 C351.8,80.8 354.3,80.8 357.0,80.8 C359.7,80.8 364.1,80.8 366.0,82.0 C367.9,83.2 368.2,87.2 368.6,88.2" fill="none" stroke="#444" stroke-width="0.725" stroke-opacity="1" stroke-dasharray="1.5,0.9"/>
<path d="M388.4,88.2 L389.0,81.5 L389.5,79.8 L390.0,81.5 L390.6,88.2 Z" fill="#4a5878" fill-opacity="1"/>
<path d="M386.5,88.2 L388,86 L391,86 L393,88.2 Z" fill="#8aa4d0" fill-opacity="1"/>
<path d="M394.5,88.2 C394.9,87.8 395.9,86.0 397.0,86.0 C398.1,86.0 400.3,87.8 401.0,88.2" fill="none" stroke="#444444" stroke-width="0.6525" stroke-opacity="1" stroke-dasharray="1.5,0.9"/>
<path d="M405.4,88.2 C405.8,87.2 406.5,83.4 408.0,82.4 C409.5,81.4 413.5,82.4 414.6,82.4" fill="none" stroke="#444444" stroke-width="0.725" stroke-opacity="1" stroke-dasharray="1.5,0.9"/>
<path d="M300.0,86.0 C300.3,85.3 301.2,82.0 302.0,82.0 C302.8,82.0 304.5,85.3 305.0,86.0" fill="none" stroke="#444444" stroke-width="0.725" stroke-opacity="1"/>
<path d="M291.5,86.5 C292.4,86.4 295.1,85.9 297.0,86.0 C298.9,86.1 302.0,86.8 303.0,87.0" fill="none" stroke="#e07070" stroke-width="0.78" stroke-opacity="1" stroke-dasharray="0.8,0.8"/>
</g>
<rect x="291.5" y="22.1" width="123.10000000000002" height="66.1" fill="none" stroke="#d0d0d0" stroke-width="0.6"/>
<text x="293.40" y="20.90" font-size="6.3" text-anchor="start" fill="#1a1a1a" font-weight="normal" textLength="58.8" lengthAdjust="spacingAndGlyphs">(c) MRI-ESM2.0, JJA</text>
<text x="291.00" y="23.85" font-size="3.8" text-anchor="end" fill="#1a1a1a" font-weight="normal" stroke="#1a1a1a" stroke-width="0.06">20</text>
<text x="291.00" y="30.70" font-size="3.8" text-anchor="end" fill="#1a1a1a" font-weight="normal" stroke="#1a1a1a" stroke-width="0.06">30</text>
<text x="291.00" y="39.33" font-size="3.8" text-anchor="end" fill="#1a1a1a" font-weight="normal" stroke="#1a1a1a" stroke-width="0.06">50</text>
<text x="291.00" y="45.02" font-size="3.8" text-anchor="end" fill="#1a1a1a" font-weight="normal" stroke="#1a1a1a" stroke-width="0.06">70</text>
<text x="291.00" y="51.04" font-size="3.8" text-anchor="end" fill="#1a1a1a" font-weight="normal" stroke="#1a1a1a" stroke-width="0.06">100</text>
<text x="291.00" y="62.76" font-size="3.8" text-anchor="end" fill="#1a1a1a" font-weight="normal" stroke="#1a1a1a" stroke-width="0.06">200</text>
<text x="291.00" y="69.61" font-size="3.8" text-anchor="end" fill="#1a1a1a" font-weight="normal" stroke="#1a1a1a" stroke-width="0.06">300</text>
<text x="291.00" y="78.24" font-size="3.8" text-anchor="end" fill="#1a1a1a" font-weight="normal" stroke="#1a1a1a" stroke-width="0.06">500</text>
<text x="291.00" y="83.92" font-size="3.8" text-anchor="end" fill="#1a1a1a" font-weight="normal" stroke="#1a1a1a" stroke-width="0.06">700</text>
<text x="291.00" y="89.95" font-size="3.8" text-anchor="end" fill="#1a1a1a" font-weight="normal" stroke="#1a1a1a" stroke-width="0.06">1000</text>
<text x="312.02" y="91.90" font-size="3.5" text-anchor="middle" fill="#1a1a1a" font-weight="normal" stroke="#1a1a1a" stroke-width="0.05">60 E</text>
<text x="332.53" y="91.90" font-size="3.5" text-anchor="middle" fill="#1a1a1a" font-weight="normal" stroke="#1a1a1a" stroke-width="0.05">120 E</text>
<text x="353.05" y="91.90" font-size="3.5" text-anchor="middle" fill="#1a1a1a" font-weight="normal" stroke="#1a1a1a" stroke-width="0.05">180</text>
<text x="373.57" y="91.90" font-size="3.5" text-anchor="middle" fill="#1a1a1a" font-weight="normal" stroke="#1a1a1a" stroke-width="0.05">120 W</text>
<text x="394.08" y="91.90" font-size="3.5" text-anchor="middle" fill="#1a1a1a" font-weight="normal" stroke="#1a1a1a" stroke-width="0.05">60 W</text>
<clipPath id="cp3"><rect x="14.3" y="116.2" width="122.60000000000001" height="67.2"/></clipPath>
<g clip-path="url(#cp3)">
<rect x="14.30" y="116.20" width="122.60" height="5.20" fill="#edf0f5" fill-opacity="1"/>
<rect x="14.30" y="121.40" width="122.60" height="0.80" fill="#d5dff0" fill-opacity="1"/>
<rect x="14.30" y="122.20" width="122.60" height="0.70" fill="#9ab0d8" fill-opacity="1"/>
<rect x="14.30" y="122.90" width="122.60" height="3.40" fill="#f6ecea" fill-opacity="1"/>
<rect x="14.30" y="126.30" width="122.60" height="1.30" fill="#f0d2c8" fill-opacity="1"/>
<rect x="14.30" y="127.60" width="122.60" height="0.90" fill="#f3c6b6" fill-opacity="1"/>
<rect x="14.30" y="128.50" width="122.60" height="8.30" fill="#f2a284" fill-opacity="1"/>
<rect x="14.30" y="136.80" width="122.60" height="1.80" fill="#f5c4b0" fill-opacity="1"/>
<rect x="14.30" y="138.60" width="122.60" height="2.40" fill="#f4d8cf" fill-opacity="1"/>
<rect x="14.30" y="141.00" width="122.60" height="2.00" fill="#f9ebe6" fill-opacity="1"/>
<path d="M14.3,122.4 L137.0,122.4" fill="none" stroke="#5c5c5c" stroke-width="0.462" stroke-opacity="1" stroke-dasharray="1.5,0.9"/>
<path d="M14.3,127.1 L137.0,127.1" fill="none" stroke="#5c5c5c" stroke-width="0.462" stroke-opacity="1" stroke-dasharray="1.5,0.9"/>
<path d="M14.3,133.5 L137.0,133.5" fill="none" stroke="#5c5c5c" stroke-width="0.462" stroke-opacity="1" stroke-dasharray="1.5,0.9"/>
<ellipse cx="49.00" cy="150.50" rx="17.50" ry="10.00" transform="rotate(-28 49.00 150.50)" fill="none" stroke="#4a4a4a" stroke-width="0.609" stroke-opacity="1"/>
<ellipse cx="48.62" cy="149.88" rx="14.44" ry="8.25" transform="rotate(-28 48.62 149.88)" fill="none" stroke="#4a4a4a" stroke-width="0.609" stroke-opacity="1"/>
<ellipse cx="48.25" cy="149.25" rx="11.38" ry="6.50" transform="rotate(-28 48.25 149.25)" fill="none" stroke="#4a4a4a" stroke-width="0.609" stroke-opacity="1"/>
<ellipse cx="47.88" cy="148.62" rx="8.31" ry="4.75" transform="rotate(-28 47.88 148.62)" fill="none" stroke="#4a4a4a" stroke-width="0.609" stroke-opacity="1"/>
<ellipse cx="47.50" cy="148.00" rx="5.25" ry="3.00" transform="rotate(-28 47.50 148.00)" fill="none" stroke="#4a4a4a" stroke-width="0.609" stroke-opacity="1"/>
<ellipse cx="48.00" cy="149.00" rx="12.00" ry="6.50" transform="rotate(-25 48.00 149.00)" fill="none" stroke="#eaa9a0" stroke-width="0.52" stroke-opacity="1"/>
<ellipse cx="48.00" cy="148.50" rx="8.70" ry="4.71" transform="rotate(-25 48.00 148.50)" fill="none" stroke="#eaa9a0" stroke-width="0.52" stroke-opacity="1"/>
<ellipse cx="48.00" cy="148.00" rx="5.40" ry="2.92" transform="rotate(-25 48.00 148.00)" fill="none" stroke="#eaa9a0" stroke-width="0.52" stroke-opacity="1"/>
<path d="M41.0,160.0 C41.8,159.7 44.5,157.5 46.0,158.0 C47.5,158.5 48.5,161.5 50.0,163.0 C51.5,164.5 54.2,166.3 55.0,167.0" fill="none" stroke="#eaa9a0" stroke-width="0.52" stroke-opacity="1"/>
<ellipse cx="12.00" cy="151.00" rx="11.00" ry="8.00" transform="rotate(0 12.00 151.00)" fill="none" stroke="#404040" stroke-width="0.7975" stroke-opacity="1"/>
<ellipse cx="12.00" cy="151.00" rx="7.43" ry="5.40" transform="rotate(0 12.00 151.00)" fill="none" stroke="#404040" stroke-width="0.7975" stroke-opacity="1"/>
<ellipse cx="12.00" cy="151.00" rx="3.85" ry="2.80" transform="rotate(0 12.00 151.00)" fill="none" stroke="#404040" stroke-width="0.7975" stroke-opacity="1"/>
<path d="M97.1,140.0 C101.4,138.5 118.8,137.5 123.1,140.0 C127.4,142.5 125.3,152.9 123.1,155.0 C120.9,157.1 114.3,153.5 110.0,152.5 C105.7,151.5 99.2,151.1 97.1,149.0 C94.9,146.9 92.8,141.5 97.1,140.0 Z" fill="#cddaf2" fill-opacity="1"/>
<path d="M104.5,157.4 C107.0,156.4 116.9,156.4 119.4,157.4 C121.9,158.4 121.9,162.6 119.4,163.6 C116.9,164.6 107.0,164.6 104.5,163.6 C102.0,162.6 102.0,158.4 104.5,157.4 Z" fill="#d2def2" fill-opacity="1"/>
<path d="M129.3,148.5 C130.6,147.3 135.7,147.3 137.0,148.5 C138.3,149.7 138.3,154.4 137.0,155.6 C135.7,156.8 130.6,156.8 129.3,155.6 C128.0,154.4 128.0,149.7 129.3,148.5 Z" fill="#cddaf2" fill-opacity="1"/>
<ellipse cx="94.00" cy="152.00" rx="21.50" ry="12.00" transform="rotate(8 94.00 152.00)" fill="none" stroke="#4a4a4a" stroke-width="0.6525" stroke-opacity="1"/>
<ellipse cx="93.38" cy="151.62" rx="17.42" ry="9.72" transform="rotate(8 93.38 151.62)" fill="none" stroke="#4a4a4a" stroke-width="0.6525" stroke-opacity="1"/>
<ellipse cx="92.75" cy="151.25" rx="13.33" ry="7.44" transform="rotate(8 92.75 151.25)" fill="none" stroke="#4a4a4a" stroke-width="0.6525" stroke-opacity="1"/>
<ellipse cx="92.12" cy="150.88" rx="9.24" ry="5.16" transform="rotate(8 92.12 150.88)" fill="none" stroke="#4a4a4a" stroke-width="0.6525" stroke-opacity="1"/>
<ellipse cx="91.50" cy="150.50" rx="5.16" ry="2.88" transform="rotate(8 91.50 150.50)" fill="none" stroke="#4a4a4a" stroke-width="0.6525" stroke-opacity="1"/>
<ellipse cx="127.50" cy="150.50" rx="12.00" ry="8.50" transform="rotate(0 127.50 150.50)" fill="none" stroke="#4a4a4a" stroke-width="0.6525" stroke-opacity="1"/>
<ellipse cx="127.50" cy="150.50" rx="8.40" ry="5.95" transform="rotate(0 127.50 150.50)" fill="none" stroke="#4a4a4a" stroke-width="0.6525" stroke-opacity="1"/>
<ellipse cx="127.50" cy="150.50" rx="4.80" ry="3.40" transform="rotate(0 127.50 150.50)" fill="none" stroke="#4a4a4a" stroke-width="0.6525" stroke-opacity="1"/>
<path d="M14.3,156.8 C15.5,157.2 19.4,158.5 21.4,159.3 C23.4,160.1 25.1,160.7 26.4,161.8 C27.6,162.9 26.8,165.2 28.9,166.1 C31.0,167.0 35.1,166.9 38.8,167.4 C42.5,167.9 47.3,168.8 51.2,169.2 C55.1,169.6 60.3,172.1 62.4,169.9 C64.5,167.7 63.4,158.5 63.6,156.2" fill="none" stroke="#404040" stroke-width="0.7975" stroke-opacity="1"/>
<path d="M28.9,166.1 C28.7,167.2 28.1,171.2 27.6,173.0 C27.1,174.8 28.0,175.9 25.8,176.7 C23.6,177.5 16.2,177.7 14.3,177.9" fill="none" stroke="#404040" stroke-width="0.7975" stroke-opacity="1"/>
<path d="M76.0,153.7 C78.1,155.6 84.7,162.6 88.4,164.9 C92.1,167.2 96.2,167.8 98.3,167.4 C100.4,167.0 98.7,164.5 100.8,162.4 C102.9,160.3 106.6,155.8 110.7,155.0 C114.8,154.2 121.2,157.4 125.6,157.4 C130.0,157.4 135.1,155.4 137.0,155.0" fill="none" stroke="#404040" stroke-width="0.7975" stroke-opacity="1"/>
<path d="M16.5,173.5 C17.3,173.1 20.6,172.0 21.4,172.3 C22.1,172.6 21.8,175.0 21.0,175.4 C20.2,175.8 17.2,175.3 16.5,175.0 C15.8,174.7 15.7,173.9 16.5,173.5 Z" fill="none" stroke="#555" stroke-width="0.6525" stroke-opacity="1" stroke-dasharray="1.5,0.9"/>
<path d="M38.8,175.0 C39.6,173.8 42.5,173.0 45.0,173.0 C47.5,173.0 52.5,173.6 53.7,175.0 C54.9,176.4 53.6,180.5 52.0,181.6 C50.4,182.7 46.0,181.9 44.0,181.6 C42.0,181.3 40.9,181.1 40.0,180.0 C39.1,178.9 38.0,176.2 38.8,175.0 Z" fill="#c8d2e4" fill-opacity="1"/>
<path d="M31.4,172.0 C33.1,169.9 39.8,168.1 45.0,168.6 C50.2,169.1 60.7,172.9 62.4,175.0 C64.1,177.1 59.6,180.0 55.0,181.0 C50.4,182.0 38.9,182.5 35.0,181.0 C31.1,179.5 29.7,174.1 31.4,172.0 Z" fill="none" stroke="#c4d6ec" stroke-width="0.52" stroke-opacity="1"/>
<path d="M90.9,169.9 C92.6,168.7 97.1,162.6 100.8,162.4 C104.5,162.2 109.1,168.8 113.2,168.6 C117.3,168.4 121.6,162.8 125.6,161.2 C129.6,159.5 135.1,159.1 137.0,158.7" fill="none" stroke="#c4d6ec" stroke-width="0.52" stroke-opacity="1"/>
<path d="M14.3,173.0 C27.7,173.0 78.5,173.1 94.6,173.0 C110.7,172.9 107.6,173.2 110.7,172.3 C113.8,171.4 112.8,168.2 113.2,167.4" fill="none" stroke="#555" stroke-width="0.6525" stroke-opacity="1" stroke-dasharray="1.5,0.9"/>
<path d="M79.7,179.2 C81.6,178.5 87.2,177.1 90.9,176.7 C94.6,176.3 101.0,176.2 102.0,176.7 C103.0,177.2 100.8,179.1 97.1,179.8 C93.4,180.5 82.6,181.1 79.7,181.0 C76.8,180.9 77.8,179.9 79.7,179.2 Z" fill="none" stroke="#555" stroke-width="0.725" stroke-opacity="1" stroke-dasharray="1.5,0.9"/>
<ellipse cx="115.70" cy="175.40" rx="2.50" ry="2.00" fill="none" stroke="#555" stroke-width="0.6525" stroke-opacity="1" stroke-dasharray="1.5,0.9"/>
<ellipse cx="120.70" cy="176.70" rx="1.50" ry="1.30" fill="none" stroke="#555" stroke-width="0.6525" stroke-opacity="1" stroke-dasharray="1.5,0.9"/>
<path d="M123.1,181.0 C123.9,180.2 125.8,177.0 128.1,176.0 C130.4,175.0 135.5,175.0 137.0,174.8" fill="none" stroke="#555" stroke-width="0.6525" stroke-opacity="1" stroke-dasharray="1.5,0.9"/>
<path d="M14.3,165.0 C15.2,164.2 19.7,162.5 20.0,160.0 C20.3,157.5 16.7,151.7 16.0,150.0" fill="none" stroke="#c4d6ec" stroke-width="0.52" stroke-opacity="1"/>
<path d="M66.0,145.0 C66.7,147.5 67.7,156.2 70.0,160.0 C72.3,163.8 78.3,166.7 80.0,168.0" fill="none" stroke="#c4d6ec" stroke-width="0.52" stroke-opacity="1"/>
<path d="M14.3,146.0 C15.6,146.7 19.4,150.0 22.0,150.0 C24.6,150.0 27.7,145.7 30.0,146.0 C32.3,146.3 35.3,149.7 36.0,152.0 C36.7,154.3 34.3,158.7 34.0,160.0" fill="none" stroke="#c4d6ec" stroke-width="0.52" stroke-opacity="1"/>
<path d="M62.0,142.0 C63.0,143.3 67.3,147.0 68.0,150.0 C68.7,153.0 65.0,157.3 66.0,160.0 C67.0,162.7 70.0,164.7 74.0,166.0 C78.0,167.3 85.7,168.0 90.0,168.0 C94.3,168.0 98.3,166.3 100.0,166.0" fill="none" stroke="#c4d6ec" stroke-width="0.52" stroke-opacity="1"/>
<path d="M84.0,168.0 C85.3,168.5 87.7,170.8 92.0,171.0 C96.3,171.2 104.0,169.8 110.0,169.0 C116.0,168.2 123.5,167.2 128.0,166.0 C132.5,164.8 135.5,162.7 137.0,162.0" fill="none" stroke="#c4d6ec" stroke-width="0.52" stroke-opacity="1"/>
<path d="M40.0,162.0 C41.3,162.7 44.7,165.7 48.0,166.0 C51.3,166.3 58.0,164.3 60.0,164.0" fill="none" stroke="#c4d6ec" stroke-width="0.52" stroke-opacity="1"/>
<path d="M70.0,178.0 C73.3,177.7 85.0,175.3 90.0,176.0 C95.0,176.7 98.3,181.0 100.0,182.0" fill="none" stroke="#d0d0d0" stroke-width="0.52" stroke-opacity="1"/>
</g>
<rect x="14.3" y="116.2" width="122.60000000000001" height="67.2" fill="none" stroke="#d0d0d0" stroke-width="0.6"/>
<text x="16.60" y="115.20" font-size="6.3" text-anchor="start" fill="#1a1a1a" font-weight="normal" textLength="60.1" lengthAdjust="spacingAndGlyphs">(d) GISS-E2-2G, SON</text>
<text x="13.80" y="117.95" font-size="3.8" text-anchor="end" fill="#1a1a1a" font-weight="normal" stroke="#1a1a1a" stroke-width="0.06">20</text>
<text x="13.80" y="124.92" font-size="3.8" text-anchor="end" fill="#1a1a1a" font-weight="normal" stroke="#1a1a1a" stroke-width="0.06">30</text>
<text x="13.80" y="133.69" font-size="3.8" text-anchor="end" fill="#1a1a1a" font-weight="normal" stroke="#1a1a1a" stroke-width="0.06">50</text>
<text x="13.80" y="139.47" font-size="3.8" text-anchor="end" fill="#1a1a1a" font-weight="normal" stroke="#1a1a1a" stroke-width="0.06">70</text>
<text x="13.80" y="145.60" font-size="3.8" text-anchor="end" fill="#1a1a1a" font-weight="normal" stroke="#1a1a1a" stroke-width="0.06">100</text>
<text x="13.80" y="157.50" font-size="3.8" text-anchor="end" fill="#1a1a1a" font-weight="normal" stroke="#1a1a1a" stroke-width="0.06">200</text>
<text x="13.80" y="164.47" font-size="3.8" text-anchor="end" fill="#1a1a1a" font-weight="normal" stroke="#1a1a1a" stroke-width="0.06">300</text>
<text x="13.80" y="173.24" font-size="3.8" text-anchor="end" fill="#1a1a1a" font-weight="normal" stroke="#1a1a1a" stroke-width="0.06">500</text>
<text x="13.80" y="179.02" font-size="3.8" text-anchor="end" fill="#1a1a1a" font-weight="normal" stroke="#1a1a1a" stroke-width="0.06">700</text>
<text x="13.80" y="185.15" font-size="3.8" text-anchor="end" fill="#1a1a1a" font-weight="normal" stroke="#1a1a1a" stroke-width="0.06">1000</text>
<text x="34.73" y="187.10" font-size="3.5" text-anchor="middle" fill="#1a1a1a" font-weight="normal" stroke="#1a1a1a" stroke-width="0.05">60 E</text>
<text x="55.17" y="187.10" font-size="3.5" text-anchor="middle" fill="#1a1a1a" font-weight="normal" stroke="#1a1a1a" stroke-width="0.05">120 E</text>
<text x="75.60" y="187.10" font-size="3.5" text-anchor="middle" fill="#1a1a1a" font-weight="normal" stroke="#1a1a1a" stroke-width="0.05">180</text>
<text x="96.03" y="187.10" font-size="3.5" text-anchor="middle" fill="#1a1a1a" font-weight="normal" stroke="#1a1a1a" stroke-width="0.05">120 W</text>
<text x="116.47" y="187.10" font-size="3.5" text-anchor="middle" fill="#1a1a1a" font-weight="normal" stroke="#1a1a1a" stroke-width="0.05">60 W</text>
<clipPath id="cp4"><rect x="152.7" y="116.2" width="123.40000000000003" height="67.2"/></clipPath>
<g clip-path="url(#cp4)">
<rect x="152.70" y="116.80" width="123.40" height="2.00" fill="#7b9ef3" fill-opacity="1"/>
<rect x="152.70" y="118.80" width="123.40" height="1.70" fill="#94b3f6" fill-opacity="1"/>
<rect x="152.70" y="120.50" width="123.40" height="1.10" fill="#cbd8f0" fill-opacity="1"/>
<rect x="152.70" y="121.60" width="123.40" height="6.40" fill="#f4a78b" fill-opacity="1"/>
<rect x="152.70" y="128.00" width="123.40" height="8.00" fill="#f5b196" fill-opacity="1"/>
<rect x="152.70" y="136.00" width="123.40" height="1.60" fill="#f5c6b2" fill-opacity="1"/>
<rect x="152.70" y="137.60" width="123.40" height="2.40" fill="#f4dcd4" fill-opacity="1"/>
<rect x="152.70" y="140.00" width="123.40" height="2.50" fill="#fbeee9" fill-opacity="1"/>
<path d="M186.0,127.0 C188.5,126.0 200.5,124.6 215.0,124.0 C229.5,123.4 263.3,122.5 273.0,123.5 C282.7,124.5 280.2,128.8 273.0,130.0 C265.8,131.2 242.2,130.5 230.0,130.5 C217.8,130.5 207.3,130.6 200.0,130.0 C192.7,129.4 183.5,128.0 186.0,127.0 Z" fill="#ee8c6f" fill-opacity="1"/>
<rect x="223.40" y="135.40" width="7.60" height="2.50" fill="#fdf0ec" fill-opacity="1"/>
<path d="M153.0,121.4 C154.7,121.7 160.3,124.0 163.2,123.3 C166.1,122.6 169.4,118.1 170.6,117.1" fill="none" stroke="#444444" stroke-width="0.6525" stroke-opacity="1" stroke-dasharray="1.5,0.9"/>
<path d="M239.2,117.1 C242.8,117.8 254.3,120.8 260.6,121.6 C266.9,122.3 274.3,121.6 277.0,121.6" fill="none" stroke="#444444" stroke-width="0.6525" stroke-opacity="1" stroke-dasharray="1.5,0.9"/>
<path d="M195.8,150.5 C195.8,148.1 195.4,139.1 195.8,136.0 C196.2,132.9 196.3,133.1 198.0,132.0 C199.7,130.9 200.6,129.9 206.0,129.6 C211.4,129.3 223.1,129.8 230.4,130.1 C237.7,130.4 244.8,131.1 250.0,131.5 C255.2,131.9 261.4,131.7 261.9,132.3 C262.4,133.0 253.7,134.5 253.0,135.4 C252.3,136.3 254.2,136.4 258.0,137.9 C261.9,139.4 273.1,143.1 276.1,144.2" fill="none" stroke="#505050" stroke-width="0.6525" stroke-opacity="1" stroke-dasharray="1.5,0.9"/>
<path d="M164.0,140.0 C164.8,136.4 168.5,137.0 172.0,136.5 C175.5,136.0 181.3,136.1 185.0,137.0 C188.7,137.9 192.7,139.0 194.0,142.0 C195.3,145.0 194.3,151.5 193.0,155.0 C191.7,158.5 188.8,161.3 186.0,163.0 C183.2,164.7 179.2,165.8 176.0,165.0 C172.8,164.2 169.0,162.2 167.0,158.0 C165.0,153.8 163.2,143.6 164.0,140.0 Z" fill="none" stroke="#454545" stroke-width="0.725"/>
<path d="M167.7,140.8 C168.4,138.3 171.3,138.5 174.0,138.2 C176.7,137.8 181.0,138.1 183.7,138.8 C186.3,139.6 189.1,140.6 190.0,142.8 C190.9,145.1 189.9,149.7 188.8,152.2 C187.7,154.6 185.5,156.6 183.3,157.7 C181.2,158.8 178.1,159.5 175.8,158.8 C173.5,158.1 170.9,156.5 169.5,153.5 C168.1,150.5 166.9,143.4 167.7,140.8 Z" fill="none" stroke="#454545" stroke-width="0.725"/>
<path d="M171.3,141.7 C172.0,140.1 174.2,140.0 176.0,139.8 C177.8,139.7 180.7,140.0 182.3,140.7 C184.0,141.3 185.6,142.2 186.0,143.7 C186.4,145.1 185.6,147.9 184.7,149.3 C183.8,150.8 182.2,151.8 180.7,152.3 C179.2,152.9 177.1,153.2 175.7,152.7 C174.2,152.1 172.7,150.8 172.0,149.0 C171.3,147.2 170.7,143.2 171.3,141.7 Z" fill="none" stroke="#454545" stroke-width="0.725"/>
<path d="M175.0,142.5 C175.6,142.0 177.0,141.5 178.0,141.5 C179.0,141.5 180.3,142.0 181.0,142.5 C181.7,143.0 182.1,143.8 182.0,144.5 C181.9,145.2 181.2,146.1 180.5,146.5 C179.8,146.9 178.8,147.0 178.0,147.0 C177.2,147.0 176.1,146.9 175.5,146.5 C174.9,146.1 174.6,145.2 174.5,144.5 C174.4,143.8 174.4,143.0 175.0,142.5 Z" fill="none" stroke="#454545" stroke-width="0.725"/>
<path d="M165.0,140.0 C165.8,139.3 168.2,136.5 170.0,136.0 C171.8,135.5 175.0,136.8 176.0,137.0" fill="none" stroke="#444444" stroke-width="0.6525" stroke-opacity="1" stroke-dasharray="1.5,0.9"/>
<path d="M214.4,146.5 C214.4,144.5 214.9,144.2 217.5,143.4 C220.1,142.6 223.8,141.7 230.0,141.5 C236.2,141.3 249.6,141.3 255.0,142.1 C260.4,142.9 261.7,144.9 262.5,146.5 C263.3,148.1 262.3,150.4 260.0,151.5 C257.7,152.6 252.6,152.1 248.8,152.8 C245.1,153.5 240.6,154.6 237.5,155.9 C234.4,157.2 232.3,160.3 230.0,160.9 C227.7,161.5 225.9,160.5 223.8,159.6 C221.7,158.7 219.1,157.5 217.5,155.3 C215.9,153.1 214.4,148.5 214.4,146.5 Z" fill="none" stroke="#404040" stroke-width="0.87" stroke-opacity="1"/>
<path d="M221.3,145.9 C221.6,145.2 221.9,144.9 223.8,144.6 C225.7,144.3 227.7,144.0 232.5,144.0 C237.3,144.0 247.9,144.0 252.5,144.6 C257.1,145.2 259.6,147.0 260.0,147.8 C260.4,148.6 257.9,149.2 255.0,149.6 C252.1,150.0 245.8,149.6 242.5,150.3 C239.2,151.0 237.1,153.0 235.0,154.0 C232.9,155.0 231.7,156.5 230.0,156.5 C228.3,156.5 226.3,155.2 225.0,154.0 C223.7,152.8 222.5,150.3 221.9,149.0 C221.3,147.7 221.0,146.6 221.3,145.9 Z" fill="none" stroke="#404040" stroke-width="0.87" stroke-opacity="1"/>
<ellipse cx="230.60" cy="147.10" rx="1.60" ry="0.90" fill="none" stroke="#404040" stroke-width="0.725" stroke-opacity="1"/>
<path d="M229.2,149.0 C229.8,145.9 232.3,145.9 233.0,149.0 C233.7,152.1 233.7,164.7 233.1,167.8 C232.5,170.9 230.2,170.9 229.5,167.8 C228.8,164.7 228.6,152.1 229.2,149.0 Z" fill="#c6d6f0" fill-opacity="1"/>
<path d="M253.0,152.0 C253.3,150.1 254.5,150.1 254.8,152.0 C255.1,153.9 254.9,161.7 254.6,163.6 C254.3,165.5 253.5,165.5 253.2,163.6 C252.9,161.7 252.7,153.9 253.0,152.0 Z" fill="#ccdaf2" fill-opacity="1"/>
<path d="M152.7,178.0 C153.8,177.8 157.7,178.1 159.4,176.8 C161.2,175.5 161.8,171.8 163.2,170.0 C164.6,168.2 165.8,167.0 168.1,166.2 C170.4,165.4 174.3,164.8 176.8,165.0 C179.3,165.2 180.9,166.3 183.0,167.5 C185.1,168.7 186.9,170.1 189.2,172.4 C191.5,174.7 195.2,179.3 196.7,181.1 C198.2,182.9 197.8,183.0 198.0,183.4" fill="none" stroke="#505050" stroke-width="0.6525" stroke-opacity="1"/>
<path d="M195.8,150.0 C196.0,152.2 194.0,159.8 197.0,163.0 C200.0,166.2 207.3,168.2 214.0,169.0 C220.7,169.8 229.3,168.1 237.0,167.5 C244.7,166.9 253.4,165.8 259.9,165.2 C266.4,164.6 273.4,163.9 276.1,163.7" fill="none" stroke="#505050" stroke-width="0.725" stroke-opacity="1" stroke-dasharray="1.5,0.9"/>
<path d="M168.1,176.5 C169.1,176.0 173.5,174.8 176.0,174.9 C178.5,175.0 182.0,175.9 183.0,177.0 C184.0,178.1 183.2,181.2 182.0,181.7 C180.8,182.2 178.0,180.7 176.0,180.0 C174.0,179.3 171.3,178.4 170.0,177.8 C168.7,177.2 167.1,177.0 168.1,176.5 Z" fill="#d8d8d8" fill-opacity="1"/>
<path d="M168.1,176.5 C169.1,176.0 173.5,174.8 176.0,174.9 C178.5,175.0 182.0,175.9 183.0,177.0 C184.0,178.1 183.2,181.2 182.0,181.7 C180.8,182.2 178.0,180.7 176.0,180.0 C174.0,179.3 171.3,178.4 170.0,177.8 C168.7,177.2 167.1,177.0 168.1,176.5 Z" fill="none" stroke="#555" stroke-width="0.58" stroke-opacity="1"/>
<path d="M161.5,184 L163,181.5 L165,180.5 L167,182 L168.5,184 Z" fill="#111" fill-opacity="1"/>
<path d="M185.0,174.0 C185.7,172.2 188.5,171.4 190.0,172.4 C191.5,173.4 193.7,178.2 194.2,180.0 C194.7,181.8 194.4,182.8 193.0,183.4 C191.6,184.0 187.3,185.0 186.0,183.4 C184.7,181.8 184.3,175.8 185.0,174.0 Z" fill="#dde6f4" fill-opacity="1"/>
<path d="M214.0,179.0 C215.7,177.7 220.7,176.0 224.0,176.0 C227.3,176.0 233.6,177.7 233.9,179.0 C234.2,180.3 229.3,183.2 226.0,184.0 C222.7,184.8 216.0,184.8 214.0,184.0 C212.0,183.2 212.3,180.3 214.0,179.0 Z" fill="none" stroke="#444444" stroke-width="0.725" stroke-opacity="1" stroke-dasharray="1.5,0.9"/>
<path d="M241.5,177.5 C243.3,177.1 249.1,174.1 252.2,175.2 C255.3,176.3 258.6,182.5 259.9,184.0" fill="none" stroke="#444444" stroke-width="0.725" stroke-opacity="1" stroke-dasharray="1.5,0.9"/>
<path d="M247.5,184 L248.6,180 L249.6,181 L251,184 Z" fill="#111" fill-opacity="1"/>
<path d="M267.5,184.0 C268.0,182.8 269.0,178.0 270.6,176.7 C272.2,175.4 275.9,176.1 277.0,176.0" fill="none" stroke="#444444" stroke-width="0.725" stroke-opacity="1" stroke-dasharray="1.5,0.9"/>
<path d="M205.0,145.0 C206.2,147.5 208.7,156.2 212.0,160.0 C215.3,163.8 219.5,166.3 225.0,168.0 C230.5,169.7 237.5,171.3 245.0,170.0 C252.5,168.7 265.8,161.7 270.0,160.0" fill="none" stroke="#c4d6ec" stroke-width="0.52" stroke-opacity="1"/>
<path d="M153.0,150.0 C154.2,151.0 159.2,153.5 160.0,156.0 C160.8,158.5 158.3,163.5 158.0,165.0" fill="none" stroke="#c4d6ec" stroke-width="0.52" stroke-opacity="1"/>
<path d="M240.0,150.0 C240.7,152.0 242.7,161.7 244.0,162.0 C245.3,162.3 247.3,153.7 248.0,152.0" fill="none" stroke="#c4d6ec" stroke-width="0.52" stroke-opacity="1"/>
<path d="M154.5,145.4 C155.4,146.2 159.4,147.9 160.0,150.0 C160.6,152.1 158.5,155.5 158.0,158.0 C157.5,160.5 157.2,163.8 157.0,165.0" fill="none" stroke="#c4d6ec" stroke-width="0.52" stroke-opacity="1"/>
<path d="M159.4,152.9 C159.8,155.4 159.1,164.9 162.0,167.8 C164.9,170.7 172.8,170.3 176.8,170.3 C180.8,170.3 184.5,168.4 186.0,168.0" fill="none" stroke="#c4d6ec" stroke-width="0.52" stroke-opacity="1"/>
<path d="M189.2,152.9 C189.3,154.9 189.9,160.9 190.0,165.0 C190.1,169.1 189.6,175.6 189.5,177.7" fill="none" stroke="#c4d6ec" stroke-width="0.52" stroke-opacity="1"/>
<path d="M209.0,147.9 C209.4,150.4 208.7,159.1 211.6,162.8 C214.5,166.5 219.0,169.5 226.4,170.3 C233.8,171.1 248.8,169.9 256.2,167.8 C263.6,165.7 267.8,161.6 271.1,157.9 C274.4,154.2 275.2,147.5 276.0,145.4" fill="none" stroke="#c4d6ec" stroke-width="0.52" stroke-opacity="1"/>
<path d="M243.8,150.0 C243.9,151.7 244.6,156.7 244.5,160.0 C244.4,163.3 243.7,168.3 243.5,170.0" fill="none" stroke="#c4d6ec" stroke-width="0.52" stroke-opacity="1"/>
<path d="M201.6,172.7 C205.7,173.1 218.1,175.0 226.4,175.2 C234.7,175.4 244.0,174.9 251.3,174.0 C258.6,173.1 266.9,170.7 270.0,170.0" fill="none" stroke="#c4d6ec" stroke-width="0.52" stroke-opacity="1"/>
<path d="M165.0,160.0 C166.2,160.5 168.7,163.0 172.0,163.0 C175.3,163.0 182.0,162.2 185.0,160.0 C188.0,157.8 189.2,151.7 190.0,150.0" fill="none" stroke="#c4d6ec" stroke-width="0.52" stroke-opacity="1"/>
<path d="M207.5,145.0 C207.6,146.7 208.1,151.7 208.0,155.0 C207.9,158.3 207.2,163.3 207.0,165.0" fill="none" stroke="#c4d6ec" stroke-width="0.52" stroke-opacity="1"/>
<path d="M242.5,150.0 C242.6,151.3 243.1,155.5 243.0,158.0 C242.9,160.5 242.2,163.8 242.0,165.0" fill="none" stroke="#c4d6ec" stroke-width="0.52" stroke-opacity="1"/>
<path d="M152.7,141.0 C155.6,141.2 162.1,142.1 170.0,142.0 C177.9,141.9 190.0,140.9 200.0,140.5 C210.0,140.1 217.3,139.6 230.0,139.5 C242.7,139.4 268.3,139.9 276.0,140.0" fill="none" stroke="#c4d6ec" stroke-width="0.52" stroke-opacity="1"/>
</g>
<rect x="152.7" y="116.2" width="123.40000000000003" height="67.2" fill="none" stroke="#d0d0d0" stroke-width="0.6"/>
<text x="153.90" y="115.20" font-size="6.3" text-anchor="start" fill="#1a1a1a" font-weight="normal" textLength="39.2" lengthAdjust="spacingAndGlyphs">(e) LMDz, JJA</text>
<text x="152.20" y="117.95" font-size="3.8" text-anchor="end" fill="#1a1a1a" font-weight="normal" stroke="#1a1a1a" stroke-width="0.06">20</text>
<text x="152.20" y="124.92" font-size="3.8" text-anchor="end" fill="#1a1a1a" font-weight="normal" stroke="#1a1a1a" stroke-width="0.06">30</text>
<text x="152.20" y="133.69" font-size="3.8" text-anchor="end" fill="#1a1a1a" font-weight="normal" stroke="#1a1a1a" stroke-width="0.06">50</text>
<text x="152.20" y="139.47" font-size="3.8" text-anchor="end" fill="#1a1a1a" font-weight="normal" stroke="#1a1a1a" stroke-width="0.06">70</text>
<text x="152.20" y="145.60" font-size="3.8" text-anchor="end" fill="#1a1a1a" font-weight="normal" stroke="#1a1a1a" stroke-width="0.06">100</text>
<text x="152.20" y="157.50" font-size="3.8" text-anchor="end" fill="#1a1a1a" font-weight="normal" stroke="#1a1a1a" stroke-width="0.06">200</text>
<text x="152.20" y="164.47" font-size="3.8" text-anchor="end" fill="#1a1a1a" font-weight="normal" stroke="#1a1a1a" stroke-width="0.06">300</text>
<text x="152.20" y="173.24" font-size="3.8" text-anchor="end" fill="#1a1a1a" font-weight="normal" stroke="#1a1a1a" stroke-width="0.06">500</text>
<text x="152.20" y="179.02" font-size="3.8" text-anchor="end" fill="#1a1a1a" font-weight="normal" stroke="#1a1a1a" stroke-width="0.06">700</text>
<text x="152.20" y="185.15" font-size="3.8" text-anchor="end" fill="#1a1a1a" font-weight="normal" stroke="#1a1a1a" stroke-width="0.06">1000</text>
<text x="173.27" y="187.10" font-size="3.5" text-anchor="middle" fill="#1a1a1a" font-weight="normal" stroke="#1a1a1a" stroke-width="0.05">60 E</text>
<text x="193.83" y="187.10" font-size="3.5" text-anchor="middle" fill="#1a1a1a" font-weight="normal" stroke="#1a1a1a" stroke-width="0.05">120 E</text>
<text x="214.40" y="187.10" font-size="3.5" text-anchor="middle" fill="#1a1a1a" font-weight="normal" stroke="#1a1a1a" stroke-width="0.05">180</text>
<text x="234.97" y="187.10" font-size="3.5" text-anchor="middle" fill="#1a1a1a" font-weight="normal" stroke="#1a1a1a" stroke-width="0.05">120 W</text>
<text x="255.53" y="187.10" font-size="3.5" text-anchor="middle" fill="#1a1a1a" font-weight="normal" stroke="#1a1a1a" stroke-width="0.05">60 W</text>
<clipPath id="cp5"><rect x="291.5" y="116.2" width="123.10000000000002" height="67.2"/></clipPath>
<g clip-path="url(#cp5)">
<rect x="291.50" y="116.20" width="123.10" height="2.40" fill="#eef1f5" fill-opacity="1"/>
<rect x="291.50" y="118.60" width="123.10" height="4.20" fill="#d5e0f0" fill-opacity="1"/>
<rect x="291.50" y="122.80" width="123.10" height="0.60" fill="#a0b8e0" fill-opacity="1"/>
<rect x="291.50" y="123.40" width="123.10" height="0.60" fill="#e8a898" fill-opacity="1"/>
<rect x="291.50" y="124.00" width="123.10" height="4.20" fill="#f8e8e4" fill-opacity="1"/>
<rect x="291.50" y="128.20" width="123.10" height="7.80" fill="#e0624b" fill-opacity="1"/>
<rect x="291.50" y="136.00" width="123.10" height="1.80" fill="#e9785c" fill-opacity="1"/>
<rect x="291.50" y="137.80" width="123.10" height="3.00" fill="#f6d4c8" fill-opacity="1"/>
<rect x="291.50" y="140.80" width="123.10" height="2.20" fill="#f8e6e0" fill-opacity="1"/>
<rect x="291.50" y="137.80" width="76.10" height="3.00" fill="#f2a286" fill-opacity="1"/>
<rect x="291.50" y="128.20" width="29.50" height="7.80" fill="#e46d55" fill-opacity="1"/>
<path d="M291.5,124.0 L414.6,124.0" fill="none" stroke="#5c5c5c" stroke-width="0.462" stroke-opacity="1" stroke-dasharray="1.5,0.9"/>
<path d="M291.5,137.2 L414.6,137.2" fill="none" stroke="#5c5c5c" stroke-width="0.462" stroke-opacity="1" stroke-dasharray="1.5,0.9"/>
<path d="M291.5,141.0 C296.2,140.9 310.2,140.4 320.0,140.5 C329.8,140.6 334.2,141.5 350.0,141.5 C365.8,141.5 403.8,140.7 414.6,140.5" fill="none" stroke="#666" stroke-width="0.44000000000000006" stroke-opacity="1" stroke-dasharray="1.5,0.9"/>
<path d="M356.8,150.0 C358.0,147.3 361.9,143.8 365.0,143.8 C368.1,143.8 374.1,147.3 375.4,150.0 C376.7,152.7 374.7,157.7 373.0,160.0 C371.3,162.3 367.5,163.6 365.0,163.6 C362.5,163.6 359.4,162.3 358.0,160.0 C356.6,157.7 355.6,152.7 356.8,150.0 Z" fill="#f4c6b2" fill-opacity="1"/>
<rect x="340.00" y="140.00" width="30.00" height="3.00" fill="#f5c3ae" fill-opacity="1"/>
<path d="M297.5,160.0 C297.0,157.9 299.6,153.2 302.0,150.0 C304.4,146.8 308.0,142.9 312.0,141.0 C316.0,139.1 321.9,138.5 326.0,138.8 C330.1,139.1 335.3,140.8 336.5,143.0 C337.7,145.2 335.8,149.2 333.0,152.0 C330.2,154.8 324.7,158.3 320.0,160.0 C315.3,161.7 308.8,162.4 305.0,162.4 C301.2,162.4 298.0,162.1 297.5,160.0 Z" fill="none" stroke="#484848" stroke-width="0.58"/>
<path d="M299.3,158.6 C299.0,156.7 301.3,152.4 303.5,149.7 C305.7,146.9 308.9,143.5 312.5,141.9 C316.1,140.3 321.3,139.8 324.8,140.1 C328.4,140.5 332.8,142.0 333.7,144.0 C334.6,146.0 332.8,149.5 330.3,151.9 C327.9,154.4 322.9,157.3 318.8,158.8 C314.7,160.2 309.0,160.8 305.8,160.8 C302.5,160.7 299.7,160.4 299.3,158.6 Z" fill="none" stroke="#484848" stroke-width="0.58"/>
<path d="M301.2,157.2 C300.9,155.5 303.0,151.7 305.0,149.3 C307.0,146.9 309.9,144.1 313.0,142.8 C316.1,141.5 320.7,141.1 323.7,141.5 C326.6,141.8 330.2,143.3 330.8,145.0 C331.5,146.7 329.9,149.8 327.7,151.8 C325.5,153.9 321.2,156.3 317.7,157.5 C314.1,158.7 309.2,159.2 306.5,159.1 C303.8,159.0 301.4,158.8 301.2,157.2 Z" fill="none" stroke="#484848" stroke-width="0.58"/>
<path d="M303.0,155.8 C302.9,154.3 304.8,151.0 306.5,149.0 C308.2,147.0 310.8,144.7 313.5,143.7 C316.2,142.6 320.1,142.4 322.5,142.8 C324.9,143.2 327.6,144.5 328.0,146.0 C328.4,147.5 326.9,150.0 325.0,151.8 C323.1,153.5 319.5,155.3 316.5,156.2 C313.5,157.2 309.5,157.5 307.2,157.4 C305.0,157.4 303.1,157.2 303.0,155.8 Z" fill="none" stroke="#484848" stroke-width="0.58"/>
<path d="M304.8,154.3 C304.8,153.1 306.5,150.3 308.0,148.7 C309.5,147.0 311.8,145.3 314.0,144.5 C316.2,143.8 319.5,143.7 321.3,144.1 C323.2,144.5 325.0,145.7 325.2,147.0 C325.3,148.3 324.0,150.3 322.3,151.7 C320.7,153.0 317.7,154.3 315.3,155.0 C312.9,155.7 309.8,155.9 308.0,155.8 C306.2,155.7 304.8,155.5 304.8,154.3 Z" fill="none" stroke="#484848" stroke-width="0.58"/>
<path d="M306.7,152.9 C306.8,151.9 308.2,149.6 309.5,148.3 C310.8,147.1 312.7,145.9 314.5,145.4 C316.3,144.9 318.9,145.0 320.2,145.5 C321.5,145.9 322.4,147.0 322.3,148.0 C322.2,149.0 321.0,150.6 319.7,151.6 C318.3,152.5 316.0,153.3 314.2,153.8 C312.3,154.2 310.0,154.3 308.8,154.2 C307.5,154.0 306.5,153.9 306.7,152.9 Z" fill="none" stroke="#484848" stroke-width="0.58"/>
<path d="M308.5,151.5 C308.8,150.8 309.9,148.9 311.0,148.0 C312.1,147.1 313.7,146.5 315.0,146.3 C316.3,146.1 318.2,146.4 319.0,146.8 C319.8,147.2 319.8,148.2 319.5,149.0 C319.2,149.8 318.1,150.9 317.0,151.5 C315.9,152.1 314.2,152.3 313.0,152.5 C311.8,152.7 310.2,152.7 309.5,152.5 C308.8,152.3 308.2,152.2 308.5,151.5 Z" fill="none" stroke="#484848" stroke-width="0.58"/>
<ellipse cx="314.00" cy="150.00" rx="8.00" ry="4.50" transform="rotate(-25 314.00 150.00)" fill="none" stroke="#eaa9a0" stroke-width="0.5850000000000001" stroke-opacity="1"/>
<ellipse cx="314.00" cy="150.00" rx="4.00" ry="2.25" transform="rotate(-25 314.00 150.00)" fill="none" stroke="#eaa9a0" stroke-width="0.5850000000000001" stroke-opacity="1"/>
<ellipse cx="292.00" cy="150.00" rx="5.00" ry="9.00" transform="rotate(0 292.00 150.00)" fill="none" stroke="#444" stroke-width="0.725" stroke-opacity="1"/>
<ellipse cx="292.00" cy="150.00" rx="2.50" ry="4.50" transform="rotate(0 292.00 150.00)" fill="none" stroke="#444" stroke-width="0.725" stroke-opacity="1"/>
<path d="M303.4,172.0 C304.2,170.1 311.1,167.3 315.0,167.3 C318.9,167.3 325.5,170.1 327.0,172.0 C328.5,173.9 326.8,177.4 324.0,178.5 C321.2,179.6 313.4,179.6 310.0,178.5 C306.6,177.4 302.6,173.9 303.4,172.0 Z" fill="none" stroke="#404040" stroke-width="0.87" stroke-opacity="1"/>
<path d="M309.0,174.0 C309.5,172.9 312.2,171.0 314.0,171.0 C315.8,171.0 319.3,172.9 320.0,174.0 C320.7,175.1 319.5,177.0 318.0,177.6 C316.5,178.2 312.5,178.2 311.0,177.6 C309.5,177.0 308.5,175.1 309.0,174.0 Z" fill="none" stroke="#404040" stroke-width="0.7975" stroke-opacity="1"/>
<ellipse cx="365.50" cy="152.50" rx="13.00" ry="11.50" transform="rotate(0 365.50 152.50)" fill="none" stroke="#454545" stroke-width="0.725" stroke-opacity="1"/>
<ellipse cx="365.50" cy="152.50" rx="9.62" ry="8.51" transform="rotate(0 365.50 152.50)" fill="none" stroke="#454545" stroke-width="0.725" stroke-opacity="1"/>
<ellipse cx="365.50" cy="152.50" rx="6.24" ry="5.52" transform="rotate(0 365.50 152.50)" fill="none" stroke="#454545" stroke-width="0.725" stroke-opacity="1"/>
<ellipse cx="365.50" cy="152.50" rx="2.86" ry="2.53" transform="rotate(0 365.50 152.50)" fill="none" stroke="#454545" stroke-width="0.725" stroke-opacity="1"/>
<path d="M344.3,150.0 C347.1,146.7 356.6,141.5 365.0,140.0 C373.4,138.5 387.5,139.3 395.0,141.0 C402.5,142.7 410.0,146.8 410.0,150.0 C410.0,153.2 402.5,157.5 395.0,160.0 C387.5,162.5 372.8,164.9 365.0,164.9 C357.2,164.9 351.4,162.5 348.0,160.0 C344.6,157.5 341.5,153.3 344.3,150.0 Z" fill="none" stroke="#404040" stroke-width="0.87" stroke-opacity="1"/>
<path d="M341.0,151.0 C344.3,146.9 355.2,139.5 365.0,137.5 C374.8,135.5 391.7,136.9 400.0,139.0 C408.3,141.1 414.6,146.0 414.6,150.0 C414.6,154.0 408.3,160.0 400.0,163.0 C391.7,166.0 374.2,168.2 365.0,168.0 C355.8,167.8 349.0,164.8 345.0,162.0 C341.0,159.2 337.7,155.1 341.0,151.0 Z" fill="none" stroke="#505050" stroke-width="0.725" stroke-opacity="1"/>
<path d="M376.0,150.0 C378.7,148.2 387.2,145.0 392.0,145.0 C396.8,145.0 405.0,148.2 405.0,150.0 C405.0,151.8 396.8,155.0 392.0,156.0 C387.2,157.0 378.7,157.0 376.0,156.0 C373.3,155.0 373.3,151.8 376.0,150.0 Z" fill="none" stroke="#404040" stroke-width="0.7975" stroke-opacity="1"/>
<ellipse cx="394.00" cy="150.30" rx="4.50" ry="2.40" fill="none" stroke="#404040" stroke-width="0.7975" stroke-opacity="1"/>
<path d="M403.9,167.3 C405.3,166.2 411.2,166.2 412.6,167.3 C414.1,168.4 414.1,172.6 412.6,173.6 C411.2,174.6 405.3,174.6 403.9,173.6 C402.4,172.6 402.4,168.4 403.9,167.3 Z" fill="#c0d0ec" fill-opacity="1"/>
<path d="M374.0,171.0 C375.3,170.4 380.3,170.4 381.6,171.0 C382.9,171.6 382.9,174.2 381.6,174.8 C380.3,175.4 375.3,175.4 374.0,174.8 C372.7,174.2 372.7,171.6 374.0,171.0 Z" fill="#c8d6ee" fill-opacity="1"/>
<path d="M291.5,166.0 C292.9,165.5 291.9,163.4 300.0,163.0 C308.1,162.6 330.0,162.7 340.0,163.5 C350.0,164.3 356.7,167.2 360.0,168.0" fill="none" stroke="#c4d6ec" stroke-width="0.52" stroke-opacity="1"/>
<path d="M341.0,145.0 C341.5,148.3 339.2,160.8 344.0,165.0 C348.8,169.2 360.7,169.8 370.0,170.0 C379.3,170.2 392.7,167.7 400.0,166.0 C407.3,164.3 411.7,161.0 414.0,160.0" fill="none" stroke="#c4d6ec" stroke-width="0.52" stroke-opacity="1"/>
<path d="M291.5,164.0 C297.9,164.2 319.9,163.7 330.0,165.0 C340.1,166.3 343.7,171.1 352.0,172.1 C360.3,173.1 369.6,171.5 380.0,171.0 C390.4,170.5 408.8,169.3 414.6,169.0" fill="none" stroke="#555" stroke-width="0.6525" stroke-opacity="1" stroke-dasharray="1.5,0.9"/>
<path d="M352.0,176.7 C355.0,176.9 365.3,177.9 370.0,178.0 C374.7,178.1 378.3,177.2 380.0,177.0" fill="none" stroke="#555" stroke-width="0.6525" stroke-opacity="1" stroke-dasharray="1.5,0.9"/>
<path d="M330.0,160.0 C333.3,160.0 344.2,158.3 350.0,160.0 C355.8,161.7 358.0,168.7 365.0,170.0 C372.0,171.3 385.5,169.7 392.0,168.0 C398.5,166.3 402.0,161.3 404.0,160.0" fill="none" stroke="#eaa9a0" stroke-width="0.52" stroke-opacity="1"/>
<path d="M385.0,150.0 C387.5,149.3 395.5,145.7 400.0,146.0 C404.5,146.3 412.3,149.3 412.0,152.0 C411.7,154.7 400.3,160.3 398.0,162.0" fill="none" stroke="#eaa9a0" stroke-width="0.52" stroke-opacity="1"/>
<path d="M291.5,181.0 C292.9,181.2 296.9,182.0 300.0,182.0 C303.1,182.0 305.0,180.8 310.0,181.0 C315.0,181.2 326.7,183.0 330.0,183.4" fill="none" stroke="#555" stroke-width="0.6525" stroke-opacity="1" stroke-dasharray="1.5,0.9"/>
<path d="M385.0,183.4 C386.7,182.8 390.2,180.2 395.0,180.0 C399.8,179.8 410.8,181.7 414.0,182.0" fill="none" stroke="#555" stroke-width="0.6525" stroke-opacity="1" stroke-dasharray="1.5,0.9"/>
<path d="M291.5,150.0 C292.2,148.7 294.6,142.5 296.0,142.0 C297.4,141.5 299.7,144.3 300.0,147.0 C300.3,149.7 299.3,155.0 298.0,158.0 C296.7,161.0 293.0,163.8 292.0,165.0" fill="none" stroke="#c4d6ec" stroke-width="0.52" stroke-opacity="1"/>
<path d="M330.0,158.0 C331.3,156.7 336.0,149.7 338.0,150.0 C340.0,150.3 342.3,156.7 342.0,160.0 C341.7,163.3 335.3,167.3 336.0,170.0 C336.7,172.7 342.0,175.7 346.0,176.0 C350.0,176.3 357.7,172.7 360.0,172.0" fill="none" stroke="#c4d6ec" stroke-width="0.52" stroke-opacity="1"/>
<path d="M295.0,170.0 C295.8,171.0 299.5,173.8 300.0,176.0 C300.5,178.2 298.3,181.8 298.0,183.0" fill="none" stroke="#c4d6ec" stroke-width="0.52" stroke-opacity="1"/>
<path d="M385.0,160.0 C386.2,161.7 388.7,168.0 392.0,170.0 C395.3,172.0 401.3,172.8 405.0,172.0 C408.7,171.2 412.5,166.2 414.0,165.0" fill="none" stroke="#c4d6ec" stroke-width="0.52" stroke-opacity="1"/>
<path d="M355.0,178.0 C357.5,177.7 364.2,175.7 370.0,176.0 C375.8,176.3 383.3,180.0 390.0,180.0 C396.7,180.0 406.7,176.7 410.0,176.0" fill="none" stroke="#c4d6ec" stroke-width="0.52" stroke-opacity="1"/>
<path d="M335.0,175.0 C335.8,175.8 340.8,178.7 340.0,180.0 C339.2,181.3 331.7,182.5 330.0,183.0" fill="none" stroke="#eaa9a0" stroke-width="0.52" stroke-opacity="1"/>
</g>
<rect x="291.5" y="116.2" width="123.10000000000002" height="67.2" fill="none" stroke="#d0d0d0" stroke-width="0.6"/>
<text x="293.40" y="115.20" font-size="6.3" text-anchor="start" fill="#1a1a1a" font-weight="normal" textLength="53.0" lengthAdjust="spacingAndGlyphs">(f) ECHAM5sh, JJA</text>
<text x="291.00" y="117.95" font-size="3.8" text-anchor="end" fill="#1a1a1a" font-weight="normal" stroke="#1a1a1a" stroke-width="0.06">20</text>
<text x="291.00" y="124.92" font-size="3.8" text-anchor="end" fill="#1a1a1a" font-weight="normal" stroke="#1a1a1a" stroke-width="0.06">30</text>
<text x="291.00" y="133.69" font-size="3.8" text-anchor="end" fill="#1a1a1a" font-weight="normal" stroke="#1a1a1a" stroke-width="0.06">50</text>
<text x="291.00" y="139.47" font-size="3.8" text-anchor="end" fill="#1a1a1a" font-weight="normal" stroke="#1a1a1a" stroke-width="0.06">70</text>
<text x="291.00" y="145.60" font-size="3.8" text-anchor="end" fill="#1a1a1a" font-weight="normal" stroke="#1a1a1a" stroke-width="0.06">100</text>
<text x="291.00" y="157.50" font-size="3.8" text-anchor="end" fill="#1a1a1a" font-weight="normal" stroke="#1a1a1a" stroke-width="0.06">200</text>
<text x="291.00" y="164.47" font-size="3.8" text-anchor="end" fill="#1a1a1a" font-weight="normal" stroke="#1a1a1a" stroke-width="0.06">300</text>
<text x="291.00" y="173.24" font-size="3.8" text-anchor="end" fill="#1a1a1a" font-weight="normal" stroke="#1a1a1a" stroke-width="0.06">500</text>
<text x="291.00" y="179.02" font-size="3.8" text-anchor="end" fill="#1a1a1a" font-weight="normal" stroke="#1a1a1a" stroke-width="0.06">700</text>
<text x="291.00" y="185.15" font-size="3.8" text-anchor="end" fill="#1a1a1a" font-weight="normal" stroke="#1a1a1a" stroke-width="0.06">1000</text>
<text x="312.02" y="187.10" font-size="3.5" text-anchor="middle" fill="#1a1a1a" font-weight="normal" stroke="#1a1a1a" stroke-width="0.05">60 E</text>
<text x="332.53" y="187.10" font-size="3.5" text-anchor="middle" fill="#1a1a1a" font-weight="normal" stroke="#1a1a1a" stroke-width="0.05">120 E</text>
<text x="353.05" y="187.10" font-size="3.5" text-anchor="middle" fill="#1a1a1a" font-weight="normal" stroke="#1a1a1a" stroke-width="0.05">180</text>
<text x="373.57" y="187.10" font-size="3.5" text-anchor="middle" fill="#1a1a1a" font-weight="normal" stroke="#1a1a1a" stroke-width="0.05">120 W</text>
<text x="394.08" y="187.10" font-size="3.5" text-anchor="middle" fill="#1a1a1a" font-weight="normal" stroke="#1a1a1a" stroke-width="0.05">60 W</text>
<clipPath id="cp6"><rect x="14.3" y="197.1" width="122.60000000000001" height="67.00000000000003"/></clipPath>
<g clip-path="url(#cp6)">
<defs><linearGradient id="gg1" x1="0" y1="0" x2="0" y2="1"><stop offset="0" stop-color="#dc5a48"/><stop offset="0.5" stop-color="#ef9073"/><stop offset="1" stop-color="#f6c3ac"/></linearGradient></defs>
<rect x="14.30" y="197.10" width="122.60" height="4.50" fill="#edf0f4" fill-opacity="1"/>
<rect x="14.30" y="201.60" width="122.60" height="1.40" fill="#cfdcee" fill-opacity="1"/>
<rect x="14.30" y="203.00" width="122.60" height="1.00" fill="#a9bfe5" fill-opacity="1"/>
<rect x="14.30" y="204.00" width="122.60" height="1.00" fill="#e9a696" fill-opacity="1"/>
<rect x="14.30" y="205.00" width="122.60" height="4.00" fill="#f6e2dc" fill-opacity="1"/>
<rect x="14.30" y="209.00" width="122.60" height="3.40" fill="#fbf2ef" fill-opacity="1"/>
<rect x="14.30" y="212.40" width="122.60" height="6.20" fill="#b8102a" fill-opacity="1"/>
<rect x="14.30" y="218.60" width="122.60" height="1.40" fill="#cc3f3a" fill-opacity="1"/>
<rect x="14.30" y="220.00" width="122.60" height="3.00" fill="#f3cdc3" fill-opacity="1"/>
<rect x="14.30" y="223.00" width="122.60" height="3.00" fill="#f7e3dd" fill-opacity="1"/>
<rect x="26.4" y="218.6" width="38.5" height="7.4" fill="url(#gg1)"/>
<path d="M14.3,202.4 L137.0,202.4" fill="none" stroke="#555" stroke-width="0.6525" stroke-opacity="1" stroke-dasharray="1.5,0.9"/>
<path d="M14.3,210.5 L137.0,210.5" fill="none" stroke="#555" stroke-width="0.6525" stroke-opacity="1" stroke-dasharray="1.5,0.9"/>
<path d="M20.0,215.5 C25.0,215.4 45.0,215.1 50.0,215.0" fill="none" stroke="#333" stroke-width="0.6525" stroke-opacity="1" stroke-dasharray="1.5,0.9"/>
<path d="M75.0,219.8 C80.8,219.8 99.7,219.5 110.0,219.5 C120.3,219.5 132.5,219.9 137.0,220.0" fill="none" stroke="#555" stroke-width="0.6525" stroke-opacity="1" stroke-dasharray="1.5,0.9"/>
<path d="M75.0,225.0 L137.0,225.0" fill="none" stroke="#eaa9a0" stroke-width="0.65" stroke-opacity="1"/>
<path d="M35.0,222.5 C37.0,220.9 46.6,220.9 48.8,222.5 C51.0,224.1 48.8,229.7 48.0,232.0 C47.2,234.3 45.8,236.4 44.0,236.4 C42.2,236.4 38.5,234.3 37.0,232.0 C35.5,229.7 33.0,224.1 35.0,222.5 Z" fill="#f4bfa8" fill-opacity="1"/>
<path d="M22.3,240.0 C21.8,237.3 22.9,231.4 25.0,228.0 C27.1,224.6 30.8,221.1 35.0,219.5 C39.2,217.9 46.5,217.4 50.0,218.5 C53.5,219.6 55.7,223.1 56.0,226.0 C56.3,228.9 54.7,233.1 52.0,236.0 C49.3,238.9 44.0,242.1 40.0,243.4 C36.0,244.7 30.9,244.6 28.0,244.0 C25.1,243.4 22.8,242.7 22.3,240.0 Z" fill="none" stroke="#484848" stroke-width="0.725" stroke-dasharray="1.5,0.9"/>
<path d="M26.5,235.3 C26.4,233.3 27.5,228.9 29.3,226.4 C31.2,224.0 34.6,221.6 37.7,220.8 C40.8,219.9 45.7,220.2 48.0,221.3 C50.3,222.5 51.6,225.3 51.5,227.5 C51.4,229.7 49.5,232.5 47.3,234.3 C45.2,236.2 41.3,238.1 38.5,238.8 C35.7,239.5 32.3,239.1 30.3,238.5 C28.3,237.9 26.7,237.3 26.5,235.3 Z" fill="none" stroke="#484848" stroke-width="0.725" stroke-dasharray="1.5,0.9"/>
<path d="M30.8,230.7 C30.9,229.3 32.1,226.3 33.7,224.9 C35.3,223.4 38.3,222.2 40.3,222.0 C42.4,221.9 44.9,223.0 46.0,224.2 C47.1,225.3 47.6,227.6 47.0,229.0 C46.4,230.4 44.3,231.8 42.7,232.7 C41.0,233.5 38.7,234.1 37.0,234.1 C35.3,234.2 33.6,233.6 32.6,233.0 C31.6,232.4 30.6,232.0 30.8,230.7 Z" fill="none" stroke="#484848" stroke-width="0.725" stroke-dasharray="1.5,0.9"/>
<path d="M35.0,226.0 C35.5,225.3 36.7,223.8 38.0,223.3 C39.3,222.9 42.0,222.7 43.0,223.3 C44.0,223.9 44.1,225.8 44.0,227.0 C43.9,228.2 43.5,229.8 42.5,230.5 C41.5,231.2 39.2,231.2 38.0,231.0 C36.8,230.8 36.0,230.1 35.5,229.5 C35.0,228.9 35.0,228.1 34.9,227.5 C34.8,226.9 34.5,226.7 35.0,226.0 Z" fill="none" stroke="#484848" stroke-width="0.725" stroke-dasharray="1.5,0.9"/>
<path d="M49.6,234.7 C50.7,235.2 53.7,236.9 56.0,238.0 C58.3,239.1 62.2,240.5 63.4,241.0" fill="none" stroke="#eaa9a0" stroke-width="0.5850000000000001" stroke-opacity="1"/>
<path d="M40.0,236.0 C41.7,237.0 46.7,240.5 50.0,242.0 C53.3,243.5 58.3,244.5 60.0,245.0" fill="none" stroke="#eaa9a0" stroke-width="0.5850000000000001" stroke-opacity="1"/>
<path d="M14.3,237.4 C14.9,237.0 17.1,236.6 18.0,235.0 C18.9,233.4 19.8,230.3 20.0,228.0 C20.2,225.7 19.2,222.2 19.0,221.0" fill="none" stroke="#444" stroke-width="0.725" stroke-opacity="1" stroke-dasharray="1.5,0.9"/>
<path d="M22.7,239.9 C22.5,240.7 21.0,242.8 21.4,244.9 C21.8,247.0 24.4,250.5 25.2,252.3 C26.0,254.2 27.2,254.8 26.4,256.0 C25.6,257.1 22.2,258.6 20.2,259.2 C18.2,259.8 15.3,259.7 14.3,259.8" fill="none" stroke="#444" stroke-width="0.725" stroke-opacity="1" stroke-dasharray="1.5,0.9"/>
<path d="M22.7,239.9 C23.7,240.0 26.2,239.2 28.9,240.5 C31.6,241.8 35.5,245.5 38.8,247.4 C42.1,249.3 45.6,250.5 48.7,251.7 C51.8,252.9 54.3,254.1 57.4,254.8 C60.5,255.5 65.4,255.2 67.3,256.0 C69.2,256.8 69.2,258.8 68.6,259.8 C68.0,260.9 62.8,261.7 63.6,262.3 C64.4,262.9 71.9,263.3 73.6,263.5" fill="none" stroke="#444" stroke-width="0.725" stroke-opacity="1" stroke-dasharray="1.5,0.9"/>
<path d="M61.1,221.0 C61.1,224.6 60.1,237.6 61.1,242.4 C62.1,247.2 64.8,248.4 67.3,249.9 C69.8,251.4 74.5,251.4 76.0,251.7" fill="none" stroke="#444" stroke-width="0.725" stroke-opacity="1" stroke-dasharray="1.5,0.9"/>
<path d="M36.3,248.6 C36.7,247.6 38.8,250.1 41.3,251.1 C43.8,252.1 49.1,253.4 51.2,254.8 C53.3,256.2 54.7,258.6 53.7,259.8 C52.7,261.1 47.5,262.7 45.0,262.3 C42.5,261.9 40.2,259.6 38.8,257.3 C37.3,255.0 35.9,249.6 36.3,248.6 Z" fill="#cdd8ea" fill-opacity="1"/>
<path d="M78.5,231.0 C79.8,229.0 83.2,225.3 88.0,224.8 C92.8,224.3 104.3,225.5 107.0,228.0 C109.7,230.5 106.8,237.9 104.0,239.7 C101.2,241.5 94.0,239.4 90.0,239.0 C86.0,238.6 81.9,238.3 80.0,237.0 C78.1,235.7 77.2,233.0 78.5,231.0 Z" fill="none" stroke="#404040" stroke-width="0.87" stroke-opacity="1"/>
<path d="M109.5,229.0 C110.2,226.9 113.9,224.2 117.0,223.5 C120.1,222.8 125.7,223.2 128.0,224.5 C130.3,225.8 131.5,228.3 131.0,231.0 C130.5,233.7 128.0,240.1 125.0,240.9 C122.0,241.7 115.6,238.0 113.0,236.0 C110.4,234.0 108.8,231.1 109.5,229.0 Z" fill="none" stroke="#404040" stroke-width="0.87" stroke-opacity="1"/>
<path d="M113.0,229.0 C113.5,227.7 115.8,226.3 118.0,226.0 C120.2,225.7 124.4,226.0 126.0,227.0 C127.6,228.0 128.0,230.2 127.5,232.0 C127.0,233.8 125.1,237.2 123.0,237.5 C120.9,237.8 116.7,235.4 115.0,234.0 C113.3,232.6 112.5,230.3 113.0,229.0 Z" fill="none" stroke="#404040" stroke-width="0.7975" stroke-opacity="1"/>
<path d="M98.0,232.0 C100.0,231.7 106.3,229.3 110.0,230.0 C113.7,230.7 120.8,234.7 120.0,236.0 C119.2,237.3 108.8,238.2 105.0,238.0 C101.2,237.8 98.3,235.5 97.0,235.0" fill="none" stroke="#c4d6ec" stroke-width="0.52" stroke-opacity="1"/>
<ellipse cx="92.80" cy="242.70" rx="3.00" ry="4.30" fill="none" stroke="#eaa9a0" stroke-width="0.65" stroke-opacity="1"/>
<ellipse cx="126.50" cy="242.00" rx="2.50" ry="3.50" fill="none" stroke="#c4d6ec" stroke-width="0.5850000000000001" stroke-opacity="1"/>
<path d="M60.0,250.0 C62.5,250.3 70.0,251.7 75.0,252.0 C80.0,252.3 85.7,251.4 90.3,252.0 C94.9,252.6 98.7,256.0 102.5,255.4 C106.3,254.8 109.4,250.2 113.2,248.5 C117.0,246.8 121.4,246.8 125.4,245.0 C129.4,243.2 135.1,239.0 137.0,237.8" fill="none" stroke="#444" stroke-width="0.725" stroke-opacity="1" stroke-dasharray="1.5,0.9"/>
<path d="M115.5,257.0 C115.5,256.2 117.9,254.6 119.0,254.6 C120.1,254.6 122.3,256.2 122.3,257.0 C122.3,257.8 120.1,259.2 119.0,259.2 C117.9,259.2 115.5,257.8 115.5,257.0 Z" fill="none" stroke="#444" stroke-width="0.725" stroke-opacity="1" stroke-dasharray="1.5,0.9"/>
<path d="M80.3,263.0 C80.3,262.4 84.1,260.7 86.0,260.7 C87.9,260.7 91.8,262.4 91.8,263.0 C91.8,263.6 87.9,264.1 86.0,264.1 C84.1,264.1 80.3,263.6 80.3,263.0 Z" fill="none" stroke="#444" stroke-width="0.725" stroke-opacity="1" stroke-dasharray="1.5,0.9"/>
<path d="M102.5,264.1 C103.5,263.7 106.6,261.5 108.6,261.5 C110.6,261.5 113.7,263.7 114.7,264.1" fill="none" stroke="#444" stroke-width="0.725" stroke-opacity="1" stroke-dasharray="1.5,0.9"/>
<path d="M130.0,264.1 C130.5,263.2 131.8,260.0 133.0,259.0 C134.2,258.0 136.3,258.2 137.0,258.0" fill="none" stroke="#444" stroke-width="0.725" stroke-opacity="1" stroke-dasharray="1.5,0.9"/>
</g>
<rect x="14.3" y="197.1" width="122.60000000000001" height="67.00000000000003" fill="none" stroke="#d0d0d0" stroke-width="0.6"/>
<text x="16.60" y="195.60" font-size="6.3" text-anchor="start" fill="#1a1a1a" font-weight="normal" textLength="46.6" lengthAdjust="spacingAndGlyphs">(g) WACCM, MJJ</text>
<text x="13.80" y="198.85" font-size="3.8" text-anchor="end" fill="#1a1a1a" font-weight="normal" stroke="#1a1a1a" stroke-width="0.06">20</text>
<text x="13.80" y="205.79" font-size="3.8" text-anchor="end" fill="#1a1a1a" font-weight="normal" stroke="#1a1a1a" stroke-width="0.06">30</text>
<text x="13.80" y="214.54" font-size="3.8" text-anchor="end" fill="#1a1a1a" font-weight="normal" stroke="#1a1a1a" stroke-width="0.06">50</text>
<text x="13.80" y="220.31" font-size="3.8" text-anchor="end" fill="#1a1a1a" font-weight="normal" stroke="#1a1a1a" stroke-width="0.06">70</text>
<text x="13.80" y="226.41" font-size="3.8" text-anchor="end" fill="#1a1a1a" font-weight="normal" stroke="#1a1a1a" stroke-width="0.06">100</text>
<text x="13.80" y="238.29" font-size="3.8" text-anchor="end" fill="#1a1a1a" font-weight="normal" stroke="#1a1a1a" stroke-width="0.06">200</text>
<text x="13.80" y="245.23" font-size="3.8" text-anchor="end" fill="#1a1a1a" font-weight="normal" stroke="#1a1a1a" stroke-width="0.06">300</text>
<text x="13.80" y="253.98" font-size="3.8" text-anchor="end" fill="#1a1a1a" font-weight="normal" stroke="#1a1a1a" stroke-width="0.06">500</text>
<text x="13.80" y="259.74" font-size="3.8" text-anchor="end" fill="#1a1a1a" font-weight="normal" stroke="#1a1a1a" stroke-width="0.06">700</text>
<text x="13.80" y="265.85" font-size="3.8" text-anchor="end" fill="#1a1a1a" font-weight="normal" stroke="#1a1a1a" stroke-width="0.06">1000</text>
<text x="34.73" y="267.80" font-size="3.5" text-anchor="middle" fill="#1a1a1a" font-weight="normal" stroke="#1a1a1a" stroke-width="0.05">60 E</text>
<text x="55.17" y="267.80" font-size="3.5" text-anchor="middle" fill="#1a1a1a" font-weight="normal" stroke="#1a1a1a" stroke-width="0.05">120 E</text>
<text x="75.60" y="267.80" font-size="3.5" text-anchor="middle" fill="#1a1a1a" font-weight="normal" stroke="#1a1a1a" stroke-width="0.05">180</text>
<text x="96.03" y="267.80" font-size="3.5" text-anchor="middle" fill="#1a1a1a" font-weight="normal" stroke="#1a1a1a" stroke-width="0.05">120 W</text>
<text x="116.47" y="267.80" font-size="3.5" text-anchor="middle" fill="#1a1a1a" font-weight="normal" stroke="#1a1a1a" stroke-width="0.05">60 W</text>
<clipPath id="cp7"><rect x="152.7" y="197.1" width="123.40000000000003" height="67.00000000000003"/></clipPath>
<g clip-path="url(#cp7)">
<rect x="152.70" y="197.10" width="123.40" height="1.90" fill="#5575e0" fill-opacity="1"/>
<rect x="152.70" y="199.00" width="123.40" height="2.00" fill="#6a8cec" fill-opacity="1"/>
<rect x="152.70" y="201.00" width="123.40" height="2.00" fill="#a8c4f5" fill-opacity="1"/>
<rect x="152.70" y="203.00" width="123.40" height="3.20" fill="#f2c0a8" fill-opacity="1"/>
<rect x="152.70" y="206.20" width="123.40" height="9.80" fill="#ee8a6c" fill-opacity="1"/>
<rect x="152.70" y="216.00" width="123.40" height="4.00" fill="#f2a084" fill-opacity="1"/>
<rect x="152.70" y="220.00" width="123.40" height="3.30" fill="#f5c0a8" fill-opacity="1"/>
<rect x="152.70" y="223.30" width="123.40" height="2.70" fill="#f8ddd4" fill-opacity="1"/>
<rect x="152.70" y="226.00" width="123.40" height="2.00" fill="#fbf0ec" fill-opacity="1"/>
<rect x="153.20" y="197.10" width="4.40" height="4.40" fill="#dfe6f2" fill-opacity="1"/>
<rect x="153.20" y="204.90" width="4.40" height="3.70" fill="#ffffff" fill-opacity="1"/>
<ellipse cx="198.50" cy="212.60" rx="4.50" ry="0.80" fill="#d85a48" stroke="none" stroke-width="0" stroke-opacity="1"/>
<rect x="229.10" y="218.90" width="21.40" height="2.50" fill="#ffffff" fill-opacity="1"/>
<path d="M152.7,200.6 L276.1,200.6" fill="none" stroke="#333" stroke-width="0.6525" stroke-opacity="1" stroke-dasharray="1.5,0.9"/>
<path d="M152.7,217.3 C156.9,217.3 171.8,217.0 178.0,217.3 C184.2,217.6 185.5,218.2 190.0,219.0 C194.5,219.8 202.5,221.5 205.0,222.0" fill="none" stroke="#444" stroke-width="0.6525" stroke-opacity="1" stroke-dasharray="1.5,0.9"/>
<path d="M260.6,218.9 C261.2,218.7 261.8,217.9 264.4,217.7 C267.0,217.5 274.2,217.5 276.1,217.5" fill="none" stroke="#444" stroke-width="0.6525" stroke-opacity="1" stroke-dasharray="1.5,0.9"/>
<path d="M261.9,220.8 C263.2,221.0 267.6,221.8 270.0,222.0 C272.4,222.2 275.1,222.0 276.1,222.0" fill="none" stroke="#444" stroke-width="0.6525" stroke-opacity="1" stroke-dasharray="1.5,0.9"/>
<path d="M166.0,223.0 C167.0,221.4 171.8,220.7 175.0,220.5 C178.2,220.3 183.5,220.4 185.0,222.0 C186.5,223.6 185.3,228.0 184.0,230.0 C182.7,232.0 179.5,234.0 177.0,234.0 C174.5,234.0 170.8,231.8 169.0,230.0 C167.2,228.2 165.0,224.6 166.0,223.0 Z" fill="#f7d2c2" fill-opacity="1"/>
<path d="M164.0,223.0 C165.5,221.2 168.8,219.8 172.0,219.5 C175.2,219.2 180.2,219.4 183.0,221.0 C185.8,222.6 188.0,226.0 189.0,229.0 C190.0,232.0 190.3,236.8 189.0,239.0 C187.7,241.2 184.2,242.3 181.0,242.0 C177.8,241.7 173.0,239.0 170.0,237.0 C167.0,235.0 164.0,232.3 163.0,230.0 C162.0,227.7 162.5,224.8 164.0,223.0 Z" fill="none" stroke="#a86a60" stroke-width="0.58"/>
<path d="M165.7,223.3 C167.0,221.8 169.9,220.5 172.7,220.2 C175.4,220.0 179.8,220.2 182.2,221.6 C184.7,223.0 186.6,225.9 187.5,228.5 C188.4,231.1 188.6,235.3 187.4,237.2 C186.2,239.1 183.1,240.1 180.3,239.8 C177.6,239.6 173.4,237.3 170.8,235.6 C168.2,233.9 165.7,231.5 164.8,229.5 C164.0,227.5 164.4,224.9 165.7,223.3 Z" fill="none" stroke="#a86a60" stroke-width="0.58"/>
<path d="M167.3,223.7 C168.4,222.3 171.0,221.2 173.3,221.0 C175.7,220.8 179.4,221.0 181.5,222.2 C183.6,223.3 185.3,225.8 186.0,228.0 C186.7,230.2 186.9,233.7 185.8,235.3 C184.8,236.9 182.0,237.9 179.7,237.7 C177.3,237.5 173.8,235.6 171.7,234.2 C169.5,232.7 167.4,230.8 166.7,229.0 C165.9,227.2 166.2,225.0 167.3,223.7 Z" fill="none" stroke="#a86a60" stroke-width="0.58"/>
<path d="M169.0,224.0 C169.9,222.9 172.0,222.0 174.0,221.8 C176.0,221.5 179.0,221.8 180.8,222.8 C182.5,223.7 183.9,225.7 184.5,227.5 C185.1,229.3 185.2,232.2 184.2,233.5 C183.3,234.8 181.0,235.6 179.0,235.5 C177.0,235.4 174.2,233.9 172.5,232.8 C170.8,231.6 169.1,230.0 168.5,228.5 C167.9,227.0 168.1,225.1 169.0,224.0 Z" fill="none" stroke="#a86a60" stroke-width="0.58"/>
<path d="M170.7,224.3 C171.4,223.4 173.1,222.7 174.7,222.5 C176.2,222.3 178.6,222.6 180.0,223.3 C181.4,224.1 182.6,225.6 183.0,227.0 C183.4,228.4 183.4,230.6 182.7,231.7 C181.9,232.7 179.9,233.4 178.3,233.3 C176.8,233.3 174.7,232.2 173.3,231.3 C172.0,230.4 170.8,229.2 170.3,228.0 C169.9,226.8 169.9,225.2 170.7,224.3 Z" fill="none" stroke="#a86a60" stroke-width="0.58"/>
<path d="M172.3,224.7 C172.9,224.0 174.2,223.4 175.3,223.2 C176.5,223.1 178.2,223.4 179.2,223.9 C180.3,224.5 181.2,225.5 181.5,226.5 C181.8,227.5 181.7,229.1 181.1,229.8 C180.4,230.6 178.8,231.2 177.7,231.2 C176.5,231.2 175.1,230.5 174.2,229.9 C173.3,229.3 172.5,228.4 172.2,227.5 C171.9,226.6 171.8,225.4 172.3,224.7 Z" fill="none" stroke="#a86a60" stroke-width="0.58"/>
<path d="M174.0,225.0 C174.3,224.5 175.2,224.1 176.0,224.0 C176.8,223.9 177.8,224.2 178.5,224.5 C179.2,224.8 179.8,225.4 180.0,226.0 C180.2,226.6 180.0,227.5 179.5,228.0 C179.0,228.5 177.8,228.9 177.0,229.0 C176.2,229.1 175.5,228.8 175.0,228.5 C174.5,228.2 174.2,227.6 174.0,227.0 C173.8,226.4 173.7,225.5 174.0,225.0 Z" fill="none" stroke="#a86a60" stroke-width="0.58"/>
<path d="M162.0,226.5 C163.5,223.3 172.4,220.0 177.0,219.0 C181.6,218.0 185.5,218.4 189.5,220.3 C193.5,222.2 198.7,225.9 200.8,230.3 C202.9,234.7 204.6,244.2 202.0,246.5 C199.4,248.8 190.7,245.4 185.0,244.0 C179.3,242.6 171.8,240.9 168.0,238.0 C164.2,235.1 160.5,229.7 162.0,226.5 Z" fill="none" stroke="#444" stroke-width="0.725" stroke-opacity="1" stroke-dasharray="1.5,0.9"/>
<path d="M158.0,233.0 C159.3,229.1 163.8,221.8 170.0,219.5 C176.2,217.2 189.0,217.4 195.0,219.5 C201.0,221.6 204.2,226.9 206.0,232.0 C207.8,237.1 209.5,247.0 206.0,250.0 C202.5,253.0 192.3,251.2 185.0,250.0 C177.7,248.8 166.5,245.8 162.0,243.0 C157.5,240.2 156.7,236.9 158.0,233.0 Z" fill="none" stroke="#555" stroke-width="0.6525" stroke-opacity="1" stroke-dasharray="1.5,0.9"/>
<path d="M152.7,239.3 C153.6,238.8 156.6,237.3 158.0,236.0 C159.4,234.7 159.6,234.1 161.2,231.7 C162.8,229.3 166.3,223.5 167.3,221.8" fill="none" stroke="#444" stroke-width="0.725" stroke-opacity="1" stroke-dasharray="1.5,0.9"/>
<path d="M165.7,254.0 C168.0,252.1 175.2,251.1 180.0,250.8 C184.8,250.5 192.4,250.1 194.7,252.0 C197.0,253.9 196.4,260.9 194.0,262.2 C191.6,263.5 184.7,260.0 180.0,260.0 C175.3,260.0 168.4,263.0 166.0,262.0 C163.6,261.0 163.4,255.9 165.7,254.0 Z" fill="#dcdfe4" fill-opacity="1"/>
<path d="M178.0,253.0 C178.8,252.0 183.5,250.8 186.0,251.0 C188.5,251.2 192.3,252.8 193.0,254.0 C193.7,255.2 192.0,257.5 190.0,258.0 C188.0,258.5 183.0,257.8 181.0,257.0 C179.0,256.2 177.2,254.0 178.0,253.0 Z" fill="#cdd8ea" fill-opacity="1"/>
<ellipse cx="173.40" cy="255.40" rx="2.00" ry="1.00" fill="none" stroke="#333" stroke-width="0.87" stroke-opacity="1"/>
<ellipse cx="227.70" cy="231.60" rx="6.20" ry="4.30" fill="none" stroke="#404040" stroke-width="0.87" stroke-opacity="1"/>
<path d="M211.6,233.0 C211.6,230.0 214.6,225.6 218.0,224.0 C221.4,222.4 227.5,223.2 232.0,223.5 C236.5,223.8 241.0,225.2 245.0,226.0 C249.0,226.8 255.4,227.0 256.2,228.0 C257.0,229.0 252.7,230.7 250.0,232.0 C247.3,233.3 243.0,234.1 240.0,236.0 C237.0,237.9 235.7,242.4 232.0,243.4 C228.3,244.4 221.4,243.7 218.0,242.0 C214.6,240.3 211.6,236.0 211.6,233.0 Z" fill="none" stroke="#404040" stroke-width="0.87" stroke-opacity="1"/>
<path d="M234.0,226.0 C236.6,224.2 252.0,223.5 255.3,225.0 C258.6,226.5 255.4,232.2 254.0,235.0 C252.6,237.8 249.3,241.9 247.0,242.1 C244.7,242.3 242.2,238.7 240.0,236.0 C237.8,233.3 231.4,227.8 234.0,226.0 Z" fill="#dbe4f3" fill-opacity="1"/>
<path d="M214.0,247.8 C217.1,248.1 226.4,250.0 232.3,249.3 C238.2,248.7 243.8,246.1 249.2,243.9 C254.6,241.7 260.0,238.6 264.5,236.3 C269.0,234.0 274.2,231.2 276.1,230.2" fill="none" stroke="#444" stroke-width="0.725" stroke-opacity="1" stroke-dasharray="1.5,0.9"/>
<path d="M214.0,253.9 C217.3,253.9 228.6,253.1 233.9,253.9 C239.2,254.7 242.5,258.1 246.1,258.5 C249.7,258.9 252.7,256.4 255.3,256.2 C257.9,255.9 260.9,256.9 262.0,257.0" fill="none" stroke="#444" stroke-width="0.725" stroke-opacity="1" stroke-dasharray="1.5,0.9"/>
<path d="M214.0,261.5 C216.6,261.6 224.2,262.4 229.3,262.3 C234.4,262.2 240.3,260.7 244.6,260.8 C248.9,260.9 253.3,262.6 255.0,263.0" fill="none" stroke="#444" stroke-width="0.725" stroke-opacity="1" stroke-dasharray="1.5,0.9"/>
<path d="M266.0,264.1 C266.5,263.2 267.3,259.5 269.0,258.5 C270.7,257.5 274.9,258.1 276.1,258.0" fill="none" stroke="#444" stroke-width="0.725" stroke-opacity="1" stroke-dasharray="1.5,0.9"/>
<path d="M230.0,244.0 C231.0,245.0 235.2,248.0 236.0,250.0 C236.8,252.0 235.2,255.0 235.0,256.0" fill="none" stroke="#c4d6ec" stroke-width="0.52" stroke-opacity="1"/>
<path d="M190.0,236.0 C193.3,236.0 204.2,235.7 210.0,236.0 C215.8,236.3 218.3,237.3 225.0,238.0 C231.7,238.7 241.5,240.0 250.0,240.0 C258.5,240.0 271.7,238.3 276.0,238.0" fill="none" stroke="#c4d6ec" stroke-width="0.52" stroke-opacity="1"/>
<path d="M152.7,228.0 C153.6,228.3 157.8,228.3 158.0,230.0 C158.2,231.7 154.7,236.7 154.0,238.0" fill="none" stroke="#c4d6ec" stroke-width="0.52" stroke-opacity="1"/>
</g>
<rect x="152.7" y="197.1" width="123.40000000000003" height="67.00000000000003" fill="none" stroke="#d0d0d0" stroke-width="0.6"/>
<text x="153.90" y="195.60" font-size="6.3" text-anchor="start" fill="#1a1a1a" font-weight="normal" textLength="65.3" lengthAdjust="spacingAndGlyphs">(h) MIROC-AGCM, MJJ</text>
<text x="152.20" y="198.85" font-size="3.8" text-anchor="end" fill="#1a1a1a" font-weight="normal" stroke="#1a1a1a" stroke-width="0.06">20</text>
<text x="152.20" y="205.79" font-size="3.8" text-anchor="end" fill="#1a1a1a" font-weight="normal" stroke="#1a1a1a" stroke-width="0.06">30</text>
<text x="152.20" y="214.54" font-size="3.8" text-anchor="end" fill="#1a1a1a" font-weight="normal" stroke="#1a1a1a" stroke-width="0.06">50</text>
<text x="152.20" y="220.31" font-size="3.8" text-anchor="end" fill="#1a1a1a" font-weight="normal" stroke="#1a1a1a" stroke-width="0.06">70</text>
<text x="152.20" y="226.41" font-size="3.8" text-anchor="end" fill="#1a1a1a" font-weight="normal" stroke="#1a1a1a" stroke-width="0.06">100</text>
<text x="152.20" y="238.29" font-size="3.8" text-anchor="end" fill="#1a1a1a" font-weight="normal" stroke="#1a1a1a" stroke-width="0.06">200</text>
<text x="152.20" y="245.23" font-size="3.8" text-anchor="end" fill="#1a1a1a" font-weight="normal" stroke="#1a1a1a" stroke-width="0.06">300</text>
<text x="152.20" y="253.98" font-size="3.8" text-anchor="end" fill="#1a1a1a" font-weight="normal" stroke="#1a1a1a" stroke-width="0.06">500</text>
<text x="152.20" y="259.74" font-size="3.8" text-anchor="end" fill="#1a1a1a" font-weight="normal" stroke="#1a1a1a" stroke-width="0.06">700</text>
<text x="152.20" y="265.85" font-size="3.8" text-anchor="end" fill="#1a1a1a" font-weight="normal" stroke="#1a1a1a" stroke-width="0.06">1000</text>
<text x="173.27" y="267.80" font-size="3.5" text-anchor="middle" fill="#1a1a1a" font-weight="normal" stroke="#1a1a1a" stroke-width="0.05">60 E</text>
<text x="193.83" y="267.80" font-size="3.5" text-anchor="middle" fill="#1a1a1a" font-weight="normal" stroke="#1a1a1a" stroke-width="0.05">120 E</text>
<text x="214.40" y="267.80" font-size="3.5" text-anchor="middle" fill="#1a1a1a" font-weight="normal" stroke="#1a1a1a" stroke-width="0.05">180</text>
<text x="234.97" y="267.80" font-size="3.5" text-anchor="middle" fill="#1a1a1a" font-weight="normal" stroke="#1a1a1a" stroke-width="0.05">120 W</text>
<text x="255.53" y="267.80" font-size="3.5" text-anchor="middle" fill="#1a1a1a" font-weight="normal" stroke="#1a1a1a" stroke-width="0.05">60 W</text>
<clipPath id="cp8"><rect x="291.5" y="197.1" width="123.10000000000002" height="67.00000000000003"/></clipPath>
<g clip-path="url(#cp8)">
<rect x="291.50" y="197.10" width="123.10" height="2.40" fill="#3f52c4" fill-opacity="1"/>
<rect x="291.50" y="199.50" width="123.10" height="1.50" fill="#5070d8" fill-opacity="1"/>
<rect x="291.50" y="201.00" width="123.10" height="1.30" fill="#7c9ff0" fill-opacity="1"/>
<rect x="291.50" y="202.30" width="123.10" height="0.70" fill="#a8c2f5" fill-opacity="1"/>
<rect x="291.50" y="203.00" width="123.10" height="2.50" fill="#f0a888" fill-opacity="1"/>
<rect x="291.50" y="205.50" width="123.10" height="2.00" fill="#ee9576" fill-opacity="1"/>
<rect x="291.50" y="207.50" width="123.10" height="6.60" fill="#e06850" fill-opacity="1"/>
<rect x="291.50" y="214.10" width="123.10" height="2.60" fill="#e57a60" fill-opacity="1"/>
<rect x="291.50" y="216.70" width="123.10" height="2.30" fill="#f09a80" fill-opacity="1"/>
<rect x="291.50" y="219.00" width="123.10" height="2.40" fill="#f2aa90" fill-opacity="1"/>
<rect x="291.50" y="221.40" width="123.10" height="2.60" fill="#f5bca5" fill-opacity="1"/>
<rect x="291.50" y="224.00" width="123.10" height="3.30" fill="#f6d0c0" fill-opacity="1"/>
<rect x="291.50" y="227.30" width="123.10" height="2.70" fill="#f9e6e0" fill-opacity="1"/>
<path d="M291.5,200.6 L320.0,200.4" fill="none" stroke="#333" stroke-width="0.6525" stroke-opacity="1" stroke-dasharray="1.5,0.9"/>
<path d="M390.0,200.7 L414.6,200.7" fill="none" stroke="#333" stroke-width="0.6525" stroke-opacity="1" stroke-dasharray="1.5,0.9"/>
<path d="M300.0,229.0 C302.5,226.2 309.0,221.8 315.0,221.0 C321.0,220.2 332.2,221.5 336.0,224.0 C339.8,226.5 340.7,233.3 338.0,236.0 C335.3,238.7 326.3,239.7 320.0,240.0 C313.7,240.3 303.3,239.8 300.0,238.0 C296.7,236.2 297.5,231.8 300.0,229.0 Z" fill="#fbf0ec" fill-opacity="1"/>
<path d="M291.5,222.3 C293.3,221.7 298.5,219.2 302.4,218.5 C306.3,217.8 310.0,217.9 314.8,218.0 C319.6,218.1 327.3,217.2 331.0,219.0 C334.7,220.8 336.1,227.3 337.1,229.0" fill="none" stroke="#444" stroke-width="0.725" stroke-opacity="1" stroke-dasharray="1.5,0.9"/>
<path d="M340.6,247.5 C340.6,244.4 340.4,234.2 340.6,229.0 C340.8,223.8 339.6,218.6 342.0,216.0 C344.4,213.4 350.6,214.0 355.0,213.6 C359.4,213.2 362.6,212.9 368.4,213.5 C374.2,214.1 383.7,215.6 389.8,217.0 C395.9,218.4 401.0,220.2 405.0,222.0 C409.0,223.8 412.5,227.0 414.0,228.0" fill="none" stroke="#444" stroke-width="0.725" stroke-opacity="1" stroke-dasharray="1.5,0.9"/>
<path d="M340.6,247.5 C338.5,247.7 335.0,249.1 328.2,248.5 C321.4,247.9 306.1,245.2 300.0,244.0 C293.9,242.8 292.9,241.5 291.5,241.0" fill="none" stroke="#444" stroke-width="0.725" stroke-opacity="1" stroke-dasharray="1.5,0.9"/>
<path d="M404.0,221.0 C405.1,218.8 412.8,218.4 414.6,221.0 C416.4,223.6 415.7,234.1 414.6,236.3 C413.5,238.5 409.8,236.6 408.0,234.0 C406.2,231.4 402.9,223.2 404.0,221.0 Z" fill="#f5c8b5" fill-opacity="1"/>
<path d="M292.5,234.0 C292.2,231.2 294.8,226.4 298.0,224.0 C301.2,221.6 307.0,220.1 312.0,219.5 C317.0,218.9 323.8,219.1 328.0,220.5 C332.2,221.9 336.0,225.1 337.0,228.0 C338.0,230.9 337.2,235.4 334.0,238.0 C330.8,240.6 323.7,242.9 318.0,243.4 C312.3,243.9 304.2,242.6 300.0,241.0 C295.8,239.4 292.8,236.8 292.5,234.0 Z" fill="none" stroke="#484848" stroke-width="0.609" stroke-dasharray="1.5,0.9"/>
<path d="M295.4,233.0 C295.2,230.5 297.5,226.5 300.3,224.4 C303.2,222.3 308.2,221.1 312.5,220.6 C316.8,220.1 322.7,220.3 326.3,221.6 C329.8,222.8 333.0,225.6 333.8,228.2 C334.6,230.7 333.8,234.6 331.0,236.8 C328.2,239.0 322.0,241.0 317.2,241.4 C312.3,241.8 305.4,240.7 301.8,239.2 C298.1,237.8 295.7,235.5 295.4,233.0 Z" fill="none" stroke="#484848" stroke-width="0.609" stroke-dasharray="1.5,0.9"/>
<path d="M298.3,232.0 C298.2,229.9 300.2,226.6 302.7,224.8 C305.1,223.1 309.4,222.0 313.0,221.7 C316.6,221.3 321.6,221.6 324.5,222.7 C327.4,223.8 330.1,226.2 330.7,228.3 C331.2,230.5 330.4,233.8 328.0,235.7 C325.6,237.5 320.4,239.1 316.3,239.4 C312.3,239.7 306.5,238.7 303.5,237.5 C300.5,236.3 298.5,234.1 298.3,232.0 Z" fill="none" stroke="#484848" stroke-width="0.609" stroke-dasharray="1.5,0.9"/>
<path d="M301.2,231.0 C301.2,229.2 303.0,226.6 305.0,225.2 C307.0,223.9 310.5,223.0 313.5,222.8 C316.5,222.5 320.4,222.8 322.8,223.8 C325.1,224.7 327.1,226.7 327.5,228.5 C327.9,230.3 327.0,233.0 325.0,234.5 C323.0,236.0 318.8,237.2 315.5,237.4 C312.2,237.7 307.6,236.8 305.2,235.8 C302.9,234.7 301.3,232.8 301.2,231.0 Z" fill="none" stroke="#484848" stroke-width="0.609" stroke-dasharray="1.5,0.9"/>
<path d="M304.2,230.0 C304.2,228.6 305.7,226.7 307.3,225.7 C309.0,224.6 311.7,224.0 314.0,223.8 C316.3,223.7 319.3,224.0 321.0,224.8 C322.7,225.6 324.2,227.2 324.3,228.7 C324.5,230.1 323.6,232.2 322.0,233.3 C320.4,234.5 317.2,235.4 314.7,235.5 C312.2,235.6 308.8,234.9 307.0,234.0 C305.2,233.1 304.1,231.4 304.2,230.0 Z" fill="none" stroke="#484848" stroke-width="0.609" stroke-dasharray="1.5,0.9"/>
<path d="M307.1,229.0 C307.2,228.0 308.4,226.8 309.7,226.1 C310.9,225.4 312.9,224.9 314.5,224.9 C316.1,224.9 318.1,225.3 319.2,225.9 C320.4,226.6 321.2,227.8 321.2,228.8 C321.1,229.9 320.2,231.4 319.0,232.2 C317.8,232.9 315.5,233.5 313.8,233.5 C312.1,233.5 309.9,233.0 308.8,232.2 C307.6,231.5 306.9,230.0 307.1,229.0 Z" fill="none" stroke="#484848" stroke-width="0.609" stroke-dasharray="1.5,0.9"/>
<path d="M310.0,228.0 C310.2,227.3 311.2,226.8 312.0,226.5 C312.8,226.2 314.1,225.9 315.0,226.0 C315.9,226.1 317.0,226.5 317.5,227.0 C318.0,227.5 318.2,228.3 318.0,229.0 C317.8,229.7 316.8,230.6 316.0,231.0 C315.2,231.4 313.9,231.6 313.0,231.5 C312.1,231.4 311.0,231.1 310.5,230.5 C310.0,229.9 309.8,228.7 310.0,228.0 Z" fill="none" stroke="#484848" stroke-width="0.609" stroke-dasharray="1.5,0.9"/>
<ellipse cx="312.00" cy="230.00" rx="12.00" ry="6.50" transform="rotate(-5 312.00 230.00)" fill="none" stroke="#eaa9a0" stroke-width="0.52" stroke-opacity="1"/>
<ellipse cx="312.00" cy="229.00" rx="6.00" ry="3.25" transform="rotate(-5 312.00 229.00)" fill="none" stroke="#eaa9a0" stroke-width="0.52" stroke-opacity="1"/>
<path d="M296.0,236.0 C298.3,236.7 304.3,239.7 310.0,240.0 C315.7,240.3 326.7,238.3 330.0,238.0" fill="none" stroke="#eaa9a0" stroke-width="0.5850000000000001" stroke-opacity="1"/>
<path d="M325.0,222.0 C327.2,224.2 334.7,231.7 338.0,235.0 C341.3,238.3 344.3,238.5 345.0,242.0 C345.7,245.5 342.0,253.0 342.0,256.0 C342.0,259.0 344.5,259.3 345.0,260.0" fill="none" stroke="#eaa9a0" stroke-width="0.5850000000000001" stroke-opacity="1"/>
<path d="M304.6,255.0 C305.6,253.6 310.1,250.7 313.0,250.8 C315.9,250.9 321.2,254.1 322.0,255.5 C322.8,256.9 320.5,258.8 318.0,259.5 C315.5,260.2 309.2,260.2 307.0,259.5 C304.8,258.8 303.6,256.4 304.6,255.0 Z" fill="none" stroke="#404040" stroke-width="0.87" stroke-opacity="1"/>
<path d="M346.8,236.0 C349.8,232.5 361.1,223.2 370.0,221.0 C378.9,218.8 393.7,221.2 400.0,223.0 C406.3,224.8 408.3,228.8 407.6,232.0 C406.9,235.2 402.3,241.1 396.0,242.1 C389.7,243.1 377.3,238.0 370.0,238.0 C362.7,238.0 355.9,242.3 352.0,242.0 C348.1,241.7 343.8,239.5 346.8,236.0 Z" fill="none" stroke="#404040" stroke-width="0.87" stroke-opacity="1"/>
<path d="M351.0,234.0 C353.8,231.5 364.2,225.3 372.0,224.0 C379.8,222.7 392.8,224.7 398.0,226.0 C403.2,227.3 403.7,229.8 403.0,232.0 C402.3,234.2 399.5,238.3 394.0,239.0 C388.5,239.7 376.5,236.0 370.0,236.0 C363.5,236.0 358.2,239.3 355.0,239.0 C351.8,238.7 348.2,236.5 351.0,234.0 Z" fill="none" stroke="#404040" stroke-width="0.87" stroke-opacity="1"/>
<ellipse cx="366.00" cy="231.00" rx="6.90" ry="3.70" fill="none" stroke="#404040" stroke-width="0.87" stroke-opacity="1"/>
<ellipse cx="392.70" cy="227.90" rx="7.50" ry="1.90" fill="none" stroke="#404040" stroke-width="0.7975" stroke-opacity="1" stroke-dasharray="1.5,0.9"/>
<path d="M353.0,238.0 C353.5,235.6 355.6,230.0 357.0,229.7 C358.4,229.4 361.2,233.3 361.7,236.0 C362.2,238.7 361.3,244.6 360.0,245.9 C358.7,247.2 355.2,245.3 354.0,244.0 C352.8,242.7 352.5,240.4 353.0,238.0 Z" fill="none" stroke="#c4d6ec" stroke-width="0.5850000000000001" stroke-opacity="1"/>
<path d="M350.0,248.0 C353.6,248.0 363.9,248.0 371.9,248.0 C379.9,248.0 390.8,248.1 397.9,248.0 C405.0,247.9 411.8,247.6 414.6,247.5" fill="none" stroke="#444" stroke-width="0.725" stroke-opacity="1" stroke-dasharray="1.5,0.9"/>
<path d="M345.5,254.6 C351.7,254.6 373.9,254.7 382.6,254.6 C391.3,254.5 392.6,254.2 397.9,254.0 C403.2,253.8 411.8,253.6 414.6,253.5" fill="none" stroke="#444" stroke-width="0.725" stroke-opacity="1" stroke-dasharray="1.5,0.9"/>
<path d="M345.5,262.0 C350.4,262.1 363.5,262.5 375.0,262.3 C386.5,262.1 408.0,261.2 414.6,261.0" fill="none" stroke="#444" stroke-width="0.725" stroke-opacity="1" stroke-dasharray="1.5,0.9"/>
<path d="M385.5,247.0 C385.5,246.0 386.6,244.0 387.2,244.0 C387.8,244.0 389.0,246.0 389.0,247.0 C389.0,248.0 387.8,250.0 387.2,250.0 C386.6,250.0 385.5,248.0 385.5,247.0 Z" fill="none" stroke="#eaa9a0" stroke-width="0.5850000000000001" stroke-opacity="1"/>
<path d="M291.5,248.0 C292.9,248.3 298.9,248.7 300.0,250.0 C301.1,251.3 298.3,255.0 298.0,256.0" fill="none" stroke="#eaa9a0" stroke-width="0.5850000000000001" stroke-opacity="1"/>
<path d="M400.0,230.0 C402.0,231.7 411.2,236.7 412.0,240.0 C412.8,243.3 404.7,247.0 405.0,250.0 C405.3,253.0 412.5,256.7 414.0,258.0" fill="none" stroke="#eaa9a0" stroke-width="0.52" stroke-opacity="1"/>
</g>
<rect x="291.5" y="197.1" width="123.10000000000002" height="67.00000000000003" fill="none" stroke="#d0d0d0" stroke-width="0.6"/>
<text x="293.40" y="195.60" font-size="6.3" text-anchor="start" fill="#1a1a1a" font-weight="normal" textLength="57.4" lengthAdjust="spacingAndGlyphs">(i) MIROC-ESM, JJA</text>
<text x="291.00" y="198.85" font-size="3.8" text-anchor="end" fill="#1a1a1a" font-weight="normal" stroke="#1a1a1a" stroke-width="0.06">20</text>
<text x="291.00" y="205.79" font-size="3.8" text-anchor="end" fill="#1a1a1a" font-weight="normal" stroke="#1a1a1a" stroke-width="0.06">30</text>
<text x="291.00" y="214.54" font-size="3.8" text-anchor="end" fill="#1a1a1a" font-weight="normal" stroke="#1a1a1a" stroke-width="0.06">50</text>
<text x="291.00" y="220.31" font-size="3.8" text-anchor="end" fill="#1a1a1a" font-weight="normal" stroke="#1a1a1a" stroke-width="0.06">70</text>
<text x="291.00" y="226.41" font-size="3.8" text-anchor="end" fill="#1a1a1a" font-weight="normal" stroke="#1a1a1a" stroke-width="0.06">100</text>
<text x="291.00" y="238.29" font-size="3.8" text-anchor="end" fill="#1a1a1a" font-weight="normal" stroke="#1a1a1a" stroke-width="0.06">200</text>
<text x="291.00" y="245.23" font-size="3.8" text-anchor="end" fill="#1a1a1a" font-weight="normal" stroke="#1a1a1a" stroke-width="0.06">300</text>
<text x="291.00" y="253.98" font-size="3.8" text-anchor="end" fill="#1a1a1a" font-weight="normal" stroke="#1a1a1a" stroke-width="0.06">500</text>
<text x="291.00" y="259.74" font-size="3.8" text-anchor="end" fill="#1a1a1a" font-weight="normal" stroke="#1a1a1a" stroke-width="0.06">700</text>
<text x="291.00" y="265.85" font-size="3.8" text-anchor="end" fill="#1a1a1a" font-weight="normal" stroke="#1a1a1a" stroke-width="0.06">1000</text>
<text x="312.02" y="267.80" font-size="3.5" text-anchor="middle" fill="#1a1a1a" font-weight="normal" stroke="#1a1a1a" stroke-width="0.05">60 E</text>
<text x="332.53" y="267.80" font-size="3.5" text-anchor="middle" fill="#1a1a1a" font-weight="normal" stroke="#1a1a1a" stroke-width="0.05">120 E</text>
<text x="353.05" y="267.80" font-size="3.5" text-anchor="middle" fill="#1a1a1a" font-weight="normal" stroke="#1a1a1a" stroke-width="0.05">180</text>
<text x="373.57" y="267.80" font-size="3.5" text-anchor="middle" fill="#1a1a1a" font-weight="normal" stroke="#1a1a1a" stroke-width="0.05">120 W</text>
<text x="394.08" y="267.80" font-size="3.5" text-anchor="middle" fill="#1a1a1a" font-weight="normal" stroke="#1a1a1a" stroke-width="0.05">60 W</text>
<path d="M21.70,93.60 L16.20,97.05 L21.70,100.50 Z" fill="#3b4cc0"/>
<path d="M128.80,93.60 L134.30,97.05 L128.80,100.50 Z" fill="#b40426"/>
<rect x="21.65" y="93.60" width="4.76" height="6.90" fill="#465ecf" fill-opacity="1"/>
<rect x="26.31" y="93.60" width="4.76" height="6.90" fill="#5470de" fill-opacity="1"/>
<rect x="30.96" y="93.60" width="4.76" height="6.90" fill="#6282ea" fill-opacity="1"/>
<rect x="35.62" y="93.60" width="4.76" height="6.90" fill="#6f92f3" fill-opacity="1"/>
<rect x="40.28" y="93.60" width="4.76" height="6.90" fill="#7ea1fa" fill-opacity="1"/>
<rect x="44.93" y="93.60" width="4.76" height="6.90" fill="#8db0fe" fill-opacity="1"/>
<rect x="49.59" y="93.60" width="4.76" height="6.90" fill="#9bbcff" fill-opacity="1"/>
<rect x="54.25" y="93.60" width="4.76" height="6.90" fill="#aac7fd" fill-opacity="1"/>
<rect x="58.90" y="93.60" width="4.76" height="6.90" fill="#b9d0f9" fill-opacity="1"/>
<rect x="63.56" y="93.60" width="4.76" height="6.90" fill="#c5d6f2" fill-opacity="1"/>
<rect x="68.22" y="93.60" width="4.76" height="6.90" fill="#d2dbe8" fill-opacity="1"/>
<rect x="72.87" y="93.60" width="4.76" height="6.90" fill="#dddcdc" fill-opacity="1"/>
<rect x="77.53" y="93.60" width="4.76" height="6.90" fill="#e7d7ce" fill-opacity="1"/>
<rect x="82.18" y="93.60" width="4.76" height="6.90" fill="#efcebd" fill-opacity="1"/>
<rect x="86.84" y="93.60" width="4.76" height="6.90" fill="#f5c4ac" fill-opacity="1"/>
<rect x="91.50" y="93.60" width="4.76" height="6.90" fill="#f7b89c" fill-opacity="1"/>
<rect x="96.15" y="93.60" width="4.76" height="6.90" fill="#f7a98b" fill-opacity="1"/>
<rect x="100.81" y="93.60" width="4.76" height="6.90" fill="#f4987a" fill-opacity="1"/>
<rect x="105.47" y="93.60" width="4.76" height="6.90" fill="#ef886b" fill-opacity="1"/>
<rect x="110.12" y="93.60" width="4.76" height="6.90" fill="#e7745b" fill-opacity="1"/>
<rect x="114.78" y="93.60" width="4.76" height="6.90" fill="#dd5f4b" fill-opacity="1"/>
<rect x="119.44" y="93.60" width="4.76" height="6.90" fill="#d1493f" fill-opacity="1"/>
<rect x="124.09" y="93.60" width="4.76" height="6.90" fill="#c32e31" fill-opacity="1"/>
<text x="21.70" y="104.30" font-size="3.5" text-anchor="middle" fill="#222" font-weight="normal">−27</text>
<text x="31.01" y="104.30" font-size="3.5" text-anchor="middle" fill="#222" font-weight="normal">−21</text>
<text x="40.33" y="104.30" font-size="3.5" text-anchor="middle" fill="#222" font-weight="normal">−15</text>
<text x="49.64" y="104.30" font-size="3.5" text-anchor="middle" fill="#222" font-weight="normal">−9</text>
<text x="58.95" y="104.30" font-size="3.5" text-anchor="middle" fill="#222" font-weight="normal">−3</text>
<text x="68.27" y="104.30" font-size="3.5" text-anchor="middle" fill="#222" font-weight="normal">−1</text>
<text x="82.23" y="104.30" font-size="3.5" text-anchor="middle" fill="#222" font-weight="normal">1</text>
<text x="91.55" y="104.30" font-size="3.5" text-anchor="middle" fill="#222" font-weight="normal">3</text>
<text x="100.86" y="104.30" font-size="3.5" text-anchor="middle" fill="#222" font-weight="normal">9</text>
<text x="110.17" y="104.30" font-size="3.5" text-anchor="middle" fill="#222" font-weight="normal">15</text>
<text x="119.49" y="104.30" font-size="3.5" text-anchor="middle" fill="#222" font-weight="normal">21</text>
<text x="128.80" y="104.30" font-size="3.5" text-anchor="middle" fill="#222" font-weight="normal">27</text>
<text x="77.60" y="107.60" font-size="3.3" text-anchor="middle" fill="#333" font-weight="normal">m s<tspan font-size="2.4" dy="-1.2">-1</tspan></text>
<path d="M161.90,269.30 L155.40,272.65 L161.90,276.00 Z" fill="#3b4cc0"/>
<path d="M267.50,269.30 L274.00,272.65 L267.50,276.00 Z" fill="#b40426"/>
<rect x="161.85" y="269.30" width="6.31" height="6.70" fill="#4b64d5" fill-opacity="1"/>
<rect x="168.06" y="269.30" width="6.31" height="6.70" fill="#5d7ce6" fill-opacity="1"/>
<rect x="174.27" y="269.30" width="6.31" height="6.70" fill="#6f92f3" fill-opacity="1"/>
<rect x="180.49" y="269.30" width="6.31" height="6.70" fill="#82a6fb" fill-opacity="1"/>
<rect x="186.70" y="269.30" width="6.31" height="6.70" fill="#97b8ff" fill-opacity="1"/>
<rect x="192.91" y="269.30" width="6.31" height="6.70" fill="#aac7fd" fill-opacity="1"/>
<rect x="199.12" y="269.30" width="6.31" height="6.70" fill="#bcd2f7" fill-opacity="1"/>
<rect x="205.33" y="269.30" width="6.31" height="6.70" fill="#cdd9ec" fill-opacity="1"/>
<rect x="211.54" y="269.30" width="6.31" height="6.70" fill="#dddcdc" fill-opacity="1"/>
<rect x="217.76" y="269.30" width="6.31" height="6.70" fill="#ead4c8" fill-opacity="1"/>
<rect x="223.97" y="269.30" width="6.31" height="6.70" fill="#f3c8b2" fill-opacity="1"/>
<rect x="230.18" y="269.30" width="6.31" height="6.70" fill="#f7b89c" fill-opacity="1"/>
<rect x="236.39" y="269.30" width="6.31" height="6.70" fill="#f6a586" fill-opacity="1"/>
<rect x="242.60" y="269.30" width="6.31" height="6.70" fill="#f18d6f" fill-opacity="1"/>
<rect x="248.81" y="269.30" width="6.31" height="6.70" fill="#e7745b" fill-opacity="1"/>
<rect x="255.03" y="269.30" width="6.31" height="6.70" fill="#d95847" fill-opacity="1"/>
<rect x="261.24" y="269.30" width="6.31" height="6.70" fill="#c83836" fill-opacity="1"/>
<text x="161.90" y="279.80" font-size="3.5" text-anchor="middle" fill="#222" font-weight="normal">−12</text>
<text x="180.54" y="279.80" font-size="3.5" text-anchor="middle" fill="#222" font-weight="normal">−6</text>
<text x="192.96" y="279.80" font-size="3.5" text-anchor="middle" fill="#222" font-weight="normal">−3</text>
<text x="205.38" y="279.80" font-size="3.5" text-anchor="middle" fill="#222" font-weight="normal">−1</text>
<text x="224.02" y="279.80" font-size="3.5" text-anchor="middle" fill="#222" font-weight="normal">1</text>
<text x="236.44" y="279.80" font-size="3.5" text-anchor="middle" fill="#222" font-weight="normal">3</text>
<text x="248.86" y="279.80" font-size="3.5" text-anchor="middle" fill="#222" font-weight="normal">6</text>
<text x="267.50" y="279.80" font-size="3.5" text-anchor="middle" fill="#222" font-weight="normal">12</text>
<text x="213.70" y="281.60" font-size="3.3" text-anchor="middle" fill="#333" font-weight="normal">m s<tspan font-size="2.4" dy="-1.2">-1</tspan></text>
<rect x="417.6" y="86.6" width="77.0" height="117.8" fill="#fff" stroke="#333" stroke-width="0.7"/>
<text x="421.40" y="96.30" font-size="7.6" text-anchor="start" fill="#111" font-weight="bold">QBO definition</text>
<text x="421.40" y="110.00" font-size="4.9" text-anchor="start" fill="#222" font-weight="normal" stroke="#222" stroke-width="0.05">ERA5 (70 hPa JJA)</text>
<text x="421.40" y="121.37" font-size="4.9" text-anchor="start" fill="#222" font-weight="normal" stroke="#222" stroke-width="0.05">EC-EARTH (70 hPa JJA)</text>
<text x="421.40" y="132.74" font-size="4.9" text-anchor="start" fill="#222" font-weight="normal" stroke="#222" stroke-width="0.05">MRI-ESM2.0 (85 hPa JJA)</text>
<text x="421.40" y="144.11" font-size="4.9" text-anchor="start" fill="#222" font-weight="normal" stroke="#222" stroke-width="0.05">GISS-E2-2G (70 hPa SON)</text>
<text x="421.40" y="155.48" font-size="4.9" text-anchor="start" fill="#222" font-weight="normal" stroke="#222" stroke-width="0.05">LMDz (70 hPa JJA)</text>
<text x="421.40" y="166.85" font-size="4.9" text-anchor="start" fill="#222" font-weight="normal" stroke="#222" stroke-width="0.05">ECHAM5sh (70 hPa JJA)</text>
<text x="421.40" y="178.22" font-size="4.9" text-anchor="start" fill="#222" font-weight="normal" stroke="#222" stroke-width="0.05">WACCM (70 hPa JJA)</text>
<text x="421.40" y="189.59" font-size="4.9" text-anchor="start" fill="#222" font-weight="normal" stroke="#222" stroke-width="0.05">MIROC-AGCM (70 hPa JJA)</text>
<text x="421.40" y="200.96" font-size="4.9" text-anchor="start" fill="#222" font-weight="normal" stroke="#222" stroke-width="0.05">MIROC-ESM (85 hPa JJA)</text>
</svg></body></html>
